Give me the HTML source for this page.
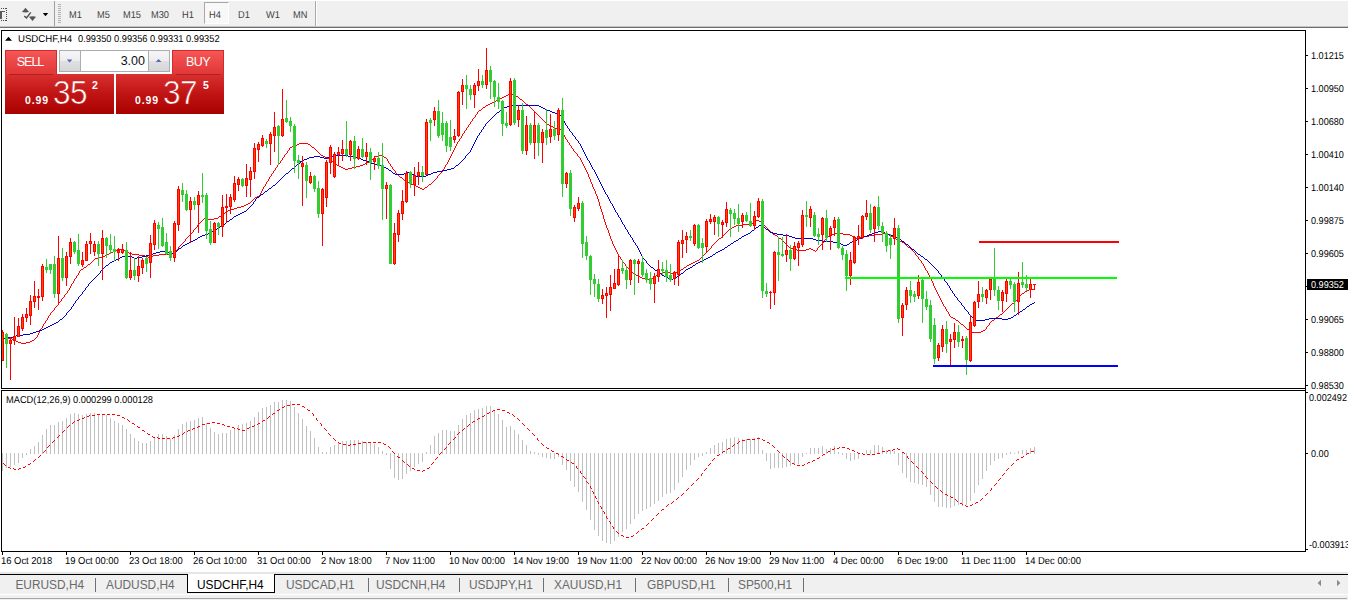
<!DOCTYPE html>
<html><head><meta charset="utf-8"><title>USDCHF,H4</title>
<style>
*{margin:0;padding:0;box-sizing:border-box}
html,body{width:1348px;height:600px;overflow:hidden;background:#fff;font-family:"Liberation Sans",sans-serif;}
#root{position:relative;width:1348px;height:600px;overflow:hidden;background:#fff}
.abs{position:absolute}
#toolbar{position:absolute;left:0;top:1px;width:1348px;height:25px;background:#F0F0F0}
#tbl1{position:absolute;left:0;top:26px;width:1348px;height:1px;background:#C6C6C6}
#tbl2{position:absolute;left:0;top:27px;width:1348px;height:1px;background:#6D6D6D}
.tf{position:absolute;margin-left:-0.2px;top:7.95px;font-size:10px;text-rendering:geometricPrecision;transform:scaleX(0.925);transform-origin:0 0;line-height:13px;color:#404040;white-space:nowrap}
.vsep{position:absolute;top:1px;width:1px;height:25px;background:#A0A0A0}
#h4btn{position:absolute;left:204px;top:1px;width:25px;height:22px;border:1px solid #A8A8A8;border-right-color:#fff;border-bottom-color:#fff;background:#F8F8F8}
#chart{position:absolute;left:0;top:0}
.bl{position:absolute;background:#000}
.tick{position:absolute;left:1306px;width:2px;height:1px;background:#000}
.pl{position:absolute;left:1311px;font-size:10px;text-rendering:geometricPrecision;transform:scaleX(0.91);transform-origin:0 0;line-height:12px;color:#000;white-space:nowrap}
.cur{position:absolute;left:1307px;top:279px;width:41px;height:11px;background:#000;color:#fff;font-size:10px;text-rendering:geometricPrecision;line-height:11px;padding-left:4px;padding-top:1px;white-space:nowrap}
.dtick{position:absolute;top:552px;width:1px;height:3px;background:#000}
.dl{position:absolute;top:556px;margin-left:-0.7px;font-size:10px;text-rendering:geometricPrecision;transform:scaleX(0.94);transform-origin:0 0;line-height:12px;color:#000;white-space:nowrap}
.title{position:absolute;left:18px;top:34px;font-size:10px;text-rendering:geometricPrecision;transform-origin:0 0;line-height:12px;color:#000;white-space:pre}
#macdt{position:absolute;left:5.5px;top:394.8px;font-size:10px;text-rendering:geometricPrecision;transform:scaleX(0.928);transform-origin:0 0;line-height:12px;color:#000;white-space:pre}
#tabs{position:absolute;left:0;top:575px;width:1348px;height:19px;background:#F0F0F0}
#tabline{position:absolute;left:0;top:574px;width:1348px;height:1px;background:#000}
#tabtop{position:absolute;left:0;top:572px;width:1348px;height:2px;background:#E6E6E6}
.tab{position:absolute;top:3px;font-size:11.9px;line-height:14px;color:#6a6a6a;white-space:nowrap}
.tab.act{color:#000}
.tsep{position:absolute;top:3px;width:1px;height:14px;background:#707070}
#acttab{position:absolute;left:187px;top:574px;width:88px;height:19px;background:#fff;border:1px solid #000;border-top:none}
#bot{position:absolute;left:0;top:594px;width:1348px;height:6px;background:#F0F0F0}
#botl{position:absolute;left:0;top:598px;width:1347px;height:1px;background:#A6A6A6}
#botw{position:absolute;left:0;top:594px;width:1348px;height:1px;background:#FFFFFF}
/* trade panel */
.rb{position:absolute;color:#fff}
</style></head><body><div id="root">
<div id="toolbar">
 <div class="vsep" style="left:54px;top:0"></div>
 <div class="vsep" style="left:315px;top:0;background:#A8A8A8"></div><div class="vsep" style="left:316px;top:0;background:#fff"></div>
 <div id="h4btn"></div>
 <div class="tf" style="left:69px">M1</div><div class="tf" style="left:97px">M5</div><div class="tf" style="left:123px">M15</div><div class="tf" style="left:151px">M30</div><div class="tf" style="left:182px">H1</div><div class="tf" style="left:209px">H4</div><div class="tf" style="left:238px">D1</div><div class="tf" style="left:265.7px">W1</div><div class="tf" style="left:293px">MN</div>
 <svg class="abs" style="left:0;top:-1px" width="66" height="27" shape-rendering="crispEdges">
  <g fill="#B4B4B4"><rect x="58" y="4" width="3" height="1"/><rect x="58" y="6" width="3" height="1"/><rect x="58" y="8" width="3" height="1"/><rect x="58" y="10" width="3" height="1"/><rect x="58" y="12" width="3" height="1"/><rect x="58" y="14" width="3" height="1"/><rect x="58" y="16" width="3" height="1"/><rect x="58" y="18" width="3" height="1"/><rect x="58" y="20" width="3" height="1"/><rect x="58" y="22" width="3" height="1"/></g>
  <rect x="0" y="11" width="5" height="1" fill="#5a5a5a"/><rect x="0" y="12" width="2" height="7" fill="#5a5a5a"/>
  <g fill="#4a4a4a"><rect x="1" y="8" width="1" height="1"/><rect x="1" y="20" width="1" height="1"/><rect x="3" y="8" width="1" height="1"/><rect x="3" y="20" width="1" height="1"/><rect x="5" y="8" width="1" height="1"/><rect x="5" y="20" width="1" height="1"/><rect x="6" y="8" width="1" height="1"/><rect x="6" y="10" width="1" height="1"/><rect x="6" y="12" width="1" height="1"/><rect x="6" y="14" width="1" height="1"/><rect x="6" y="16" width="1" height="1"/><rect x="6" y="18" width="1" height="1"/><rect x="6" y="20" width="1" height="1"/></g>
  <g shape-rendering="auto"><path d="M22 12 L25.5 7.8 L29 12 L25.5 12.6 Z" fill="#555"/><path d="M29 16.8 L32.5 16.2 L36 16.8 L32.5 21 Z" fill="#555"/>
  <path d="M24.2 16 L26.5 17.9 L30.8 12.4" stroke="#505050" stroke-width="1.4" fill="none"/>
  <path d="M42.8 13 L48.2 13 L45.5 16.3 Z" fill="#000"/></g>
 </svg>
</div>
<div id="tbl1"></div><div id="tbl2"></div>

<!-- chart borders -->
<div class="bl" style="left:1px;top:30px;width:1305px;height:1px"></div>
<div class="bl" style="left:1px;top:30px;width:1px;height:522px"></div>
<div class="bl" style="left:1305px;top:30px;width:1px;height:522px"></div>
<div class="bl" style="left:1px;top:388px;width:1305px;height:1px"></div>
<div class="bl" style="left:1px;top:390px;width:1305px;height:1px"></div>
<div class="bl" style="left:1px;top:551px;width:1305px;height:1px"></div>
<div class="abs" style="left:0px;top:389px;width:1305px;height:1px;background:#fff"></div>

<svg id="chart" width="1305" height="552" viewBox="0 0 1305 552" shape-rendering="crispEdges">
<defs><clipPath id="cp"><rect x="2" y="31" width="1303" height="520"/></clipPath></defs>
<g clip-path="url(#cp)">
<path d="M510 93h2v1h-2zM508 94h2v1h-2zM512 94h2v1h-2zM506 95h2v1h-2zM514 95h2v1h-2zM504 96h2v1h-2zM516 96h2v1h-2zM502 97h2v1h-2zM518 97h1v1h-1zM500 98h2v1h-2zM519 98h1v1h-1zM498 99h2v1h-2zM520 99h2v1h-2zM496 100h2v1h-2zM522 100h1v1h-1zM494 101h2v1h-2zM523 101h1v1h-1zM492 102h2v1h-2zM524 102h1v1h-1zM490 103h2v1h-2zM525 103h1v1h-1zM488 104h2v1h-2zM526 104h2v1h-2zM486 105h2v1h-2zM528 105h1v1h-1zM485 106h1v1h-1zM529 106h1v1h-1zM483 107h2v1h-2zM530 107h1v1h-1zM482 108h1v1h-1zM531 108h1v1h-1zM481 109h1v1h-1zM532 109h1v1h-1zM479 110h2v1h-2zM533 110h1v1h-1zM478 111h1v1h-1zM534 111h1v1h-1zM477 112h1v1h-1zM535 112h1v1h-1zM477 113h1v1h-1zM536 113h1v1h-1zM476 114h1v1h-1zM537 114h1v1h-1zM475 115h1v1h-1zM538 115h1v1h-1zM475 116h1v1h-1zM539 116h1v1h-1zM474 117h1v1h-1zM540 117h1v1h-1zM473 118h1v1h-1zM541 118h1v1h-1zM472 119h1v1h-1zM542 119h1v1h-1zM472 120h1v1h-1zM543 120h1v1h-1zM471 121h1v1h-1zM544 121h1v1h-1zM470 122h1v1h-1zM545 122h1v1h-1zM470 123h1v1h-1zM546 123h1v1h-1zM469 124h1v1h-1zM547 124h2v1h-2zM468 125h1v1h-1zM549 125h2v1h-2zM468 126h1v1h-1zM551 126h2v1h-2zM467 127h1v1h-1zM553 127h2v1h-2zM466 128h1v1h-1zM555 128h4v1h-4zM466 129h1v1h-1zM559 129h3v1h-3zM465 130h1v1h-1zM561 130h1v1h-1zM464 131h1v1h-1zM562 131h1v1h-1zM464 132h1v1h-1zM562 132h1v1h-1zM463 133h1v1h-1zM563 133h1v1h-1zM462 134h1v1h-1zM563 134h1v1h-1zM462 135h1v1h-1zM564 135h1v1h-1zM461 136h1v1h-1zM564 136h1v1h-1zM461 137h1v1h-1zM565 137h1v1h-1zM460 138h1v1h-1zM565 138h1v1h-1zM459 139h1v1h-1zM566 139h1v1h-1zM459 140h1v1h-1zM567 140h1v1h-1zM458 141h1v1h-1zM567 141h1v1h-1zM457 142h1v1h-1zM568 142h1v1h-1zM299 143h9v1h-9zM457 143h1v1h-1zM569 143h1v1h-1zM297 144h2v1h-2zM308 144h2v1h-2zM456 144h1v1h-1zM569 144h1v1h-1zM294 145h3v1h-3zM310 145h1v1h-1zM456 145h1v1h-1zM570 145h1v1h-1zM292 146h2v1h-2zM311 146h1v1h-1zM455 146h1v1h-1zM571 146h1v1h-1zM290 147h2v1h-2zM312 147h2v1h-2zM455 147h1v1h-1zM571 147h1v1h-1zM289 148h1v1h-1zM314 148h1v1h-1zM454 148h1v1h-1zM572 148h1v1h-1zM289 149h1v1h-1zM315 149h1v1h-1zM454 149h1v1h-1zM573 149h1v1h-1zM288 150h1v1h-1zM316 150h1v1h-1zM453 150h1v1h-1zM573 150h1v1h-1zM287 151h1v1h-1zM317 151h1v1h-1zM453 151h1v1h-1zM574 151h1v1h-1zM287 152h1v1h-1zM318 152h1v1h-1zM452 152h1v1h-1zM575 152h1v1h-1zM286 153h1v1h-1zM319 153h1v1h-1zM452 153h1v1h-1zM576 153h1v1h-1zM285 154h1v1h-1zM320 154h1v1h-1zM451 154h1v1h-1zM577 154h1v1h-1zM284 155h1v1h-1zM321 155h2v1h-2zM378 155h4v1h-4zM451 155h1v1h-1zM577 155h1v1h-1zM284 156h1v1h-1zM323 156h2v1h-2zM375 156h3v1h-3zM382 156h2v1h-2zM450 156h1v1h-1zM578 156h1v1h-1zM283 157h1v1h-1zM325 157h2v1h-2zM374 157h1v1h-1zM384 157h2v1h-2zM450 157h1v1h-1zM579 157h1v1h-1zM282 158h1v1h-1zM327 158h2v1h-2zM373 158h1v1h-1zM386 158h1v1h-1zM449 158h1v1h-1zM580 158h1v1h-1zM282 159h1v1h-1zM329 159h1v1h-1zM371 159h2v1h-2zM387 159h1v1h-1zM449 159h1v1h-1zM580 159h1v1h-1zM281 160h1v1h-1zM330 160h2v1h-2zM370 160h1v1h-1zM387 160h1v1h-1zM448 160h1v1h-1zM581 160h1v1h-1zM280 161h1v1h-1zM332 161h1v1h-1zM369 161h1v1h-1zM388 161h1v1h-1zM448 161h1v1h-1zM581 161h1v1h-1zM280 162h1v1h-1zM333 162h2v1h-2zM367 162h2v1h-2zM388 162h1v1h-1zM447 162h1v1h-1zM582 162h1v1h-1zM279 163h1v1h-1zM335 163h1v1h-1zM365 163h2v1h-2zM389 163h1v1h-1zM447 163h1v1h-1zM582 163h1v1h-1zM278 164h1v1h-1zM336 164h1v1h-1zM363 164h2v1h-2zM390 164h1v1h-1zM446 164h1v1h-1zM583 164h1v1h-1zM277 165h1v1h-1zM337 165h2v1h-2zM360 165h3v1h-3zM390 165h1v1h-1zM445 165h1v1h-1zM583 165h1v1h-1zM277 166h1v1h-1zM339 166h2v1h-2zM356 166h4v1h-4zM391 166h1v1h-1zM445 166h1v1h-1zM584 166h1v1h-1zM276 167h1v1h-1zM341 167h2v1h-2zM352 167h4v1h-4zM392 167h1v1h-1zM444 167h1v1h-1zM584 167h1v1h-1zM275 168h1v1h-1zM343 168h2v1h-2zM348 168h4v1h-4zM392 168h1v1h-1zM444 168h1v1h-1zM585 168h1v1h-1zM275 169h1v1h-1zM345 169h3v1h-3zM393 169h1v1h-1zM443 169h1v1h-1zM585 169h1v1h-1zM274 170h1v1h-1zM394 170h1v1h-1zM443 170h1v1h-1zM586 170h1v1h-1zM273 171h1v1h-1zM395 171h1v1h-1zM442 171h1v1h-1zM586 171h1v1h-1zM273 172h1v1h-1zM395 172h1v1h-1zM441 172h1v1h-1zM587 172h1v1h-1zM272 173h1v1h-1zM396 173h1v1h-1zM440 173h1v1h-1zM587 173h1v1h-1zM271 174h1v1h-1zM397 174h1v1h-1zM439 174h1v1h-1zM588 174h1v1h-1zM271 175h1v1h-1zM398 175h1v1h-1zM438 175h1v1h-1zM588 175h1v1h-1zM270 176h1v1h-1zM399 176h1v1h-1zM437 176h1v1h-1zM588 176h1v1h-1zM269 177h1v1h-1zM400 177h2v1h-2zM437 177h1v1h-1zM589 177h1v1h-1zM269 178h1v1h-1zM402 178h1v1h-1zM436 178h1v1h-1zM589 178h1v1h-1zM268 179h1v1h-1zM403 179h1v1h-1zM435 179h1v1h-1zM590 179h1v1h-1zM268 180h1v1h-1zM404 180h1v1h-1zM434 180h1v1h-1zM590 180h1v1h-1zM267 181h1v1h-1zM405 181h2v1h-2zM433 181h1v1h-1zM590 181h1v1h-1zM266 182h1v1h-1zM407 182h2v1h-2zM432 182h1v1h-1zM591 182h1v1h-1zM266 183h1v1h-1zM409 183h2v1h-2zM431 183h1v1h-1zM591 183h1v1h-1zM265 184h1v1h-1zM411 184h3v1h-3zM429 184h2v1h-2zM592 184h1v1h-1zM265 185h1v1h-1zM414 185h2v1h-2zM428 185h1v1h-1zM592 185h1v1h-1zM264 186h1v1h-1zM416 186h2v1h-2zM427 186h1v1h-1zM592 186h1v1h-1zM263 187h1v1h-1zM418 187h2v1h-2zM425 187h2v1h-2zM593 187h1v1h-1zM263 188h1v1h-1zM420 188h2v1h-2zM424 188h1v1h-1zM593 188h1v1h-1zM262 189h1v1h-1zM422 189h2v1h-2zM594 189h1v1h-1zM262 190h1v1h-1zM594 190h1v1h-1zM261 191h1v1h-1zM595 191h1v1h-1zM261 192h1v1h-1zM595 192h1v1h-1zM260 193h1v1h-1zM595 193h1v1h-1zM260 194h1v1h-1zM596 194h1v1h-1zM259 195h1v1h-1zM596 195h1v1h-1zM257 196h2v1h-2zM597 196h1v1h-1zM255 197h2v1h-2zM597 197h1v1h-1zM254 198h1v1h-1zM597 198h1v1h-1zM253 199h1v1h-1zM598 199h1v1h-1zM252 200h1v1h-1zM598 200h1v1h-1zM251 201h1v1h-1zM598 201h1v1h-1zM250 202h1v1h-1zM599 202h1v1h-1zM248 203h2v1h-2zM599 203h1v1h-1zM246 204h2v1h-2zM599 204h1v1h-1zM244 205h2v1h-2zM599 205h1v1h-1zM241 206h3v1h-3zM600 206h1v1h-1zM237 207h4v1h-4zM600 207h1v1h-1zM234 208h3v1h-3zM600 208h1v1h-1zM230 209h4v1h-4zM601 209h1v1h-1zM228 210h2v1h-2zM601 210h1v1h-1zM226 211h2v1h-2zM601 211h1v1h-1zM225 212h1v1h-1zM602 212h1v1h-1zM223 213h2v1h-2zM602 213h1v1h-1zM222 214h1v1h-1zM602 214h1v1h-1zM221 215h1v1h-1zM603 215h1v1h-1zM219 216h2v1h-2zM603 216h1v1h-1zM218 217h1v1h-1zM603 217h1v1h-1zM204 218h4v1h-4zM214 218h4v1h-4zM603 218h1v1h-1zM203 219h1v1h-1zM208 219h6v1h-6zM604 219h1v1h-1zM202 220h1v1h-1zM604 220h1v1h-1zM756 220h3v1h-3zM201 221h1v1h-1zM604 221h1v1h-1zM755 221h1v1h-1zM759 221h3v1h-3zM200 222h1v1h-1zM605 222h1v1h-1zM753 222h2v1h-2zM762 222h1v1h-1zM199 223h1v1h-1zM605 223h1v1h-1zM752 223h1v1h-1zM763 223h1v1h-1zM198 224h1v1h-1zM605 224h1v1h-1zM742 224h10v1h-10zM763 224h1v1h-1zM197 225h1v1h-1zM606 225h1v1h-1zM736 225h6v1h-6zM764 225h1v1h-1zM197 226h1v1h-1zM606 226h1v1h-1zM734 226h2v1h-2zM765 226h1v1h-1zM196 227h1v1h-1zM606 227h1v1h-1zM732 227h2v1h-2zM766 227h1v1h-1zM195 228h1v1h-1zM607 228h1v1h-1zM730 228h2v1h-2zM767 228h1v1h-1zM194 229h1v1h-1zM607 229h1v1h-1zM729 229h1v1h-1zM768 229h1v1h-1zM193 230h1v1h-1zM608 230h1v1h-1zM728 230h1v1h-1zM769 230h1v1h-1zM193 231h1v1h-1zM608 231h1v1h-1zM727 231h1v1h-1zM770 231h1v1h-1zM192 232h1v1h-1zM608 232h1v1h-1zM726 232h1v1h-1zM771 232h1v1h-1zM191 233h1v1h-1zM609 233h1v1h-1zM725 233h1v1h-1zM772 233h1v1h-1zM835 233h8v1h-8zM882 233h5v1h-5zM190 234h1v1h-1zM609 234h1v1h-1zM724 234h1v1h-1zM773 234h2v1h-2zM831 234h4v1h-4zM843 234h7v1h-7zM874 234h8v1h-8zM887 234h2v1h-2zM189 235h1v1h-1zM609 235h1v1h-1zM723 235h1v1h-1zM775 235h2v1h-2zM830 235h1v1h-1zM850 235h2v1h-2zM869 235h5v1h-5zM889 235h2v1h-2zM188 236h1v1h-1zM610 236h1v1h-1zM722 236h1v1h-1zM777 236h1v1h-1zM828 236h2v1h-2zM852 236h2v1h-2zM864 236h5v1h-5zM891 236h2v1h-2zM187 237h1v1h-1zM610 237h1v1h-1zM721 237h1v1h-1zM778 237h1v1h-1zM827 237h1v1h-1zM854 237h2v1h-2zM860 237h4v1h-4zM893 237h2v1h-2zM186 238h1v1h-1zM610 238h1v1h-1zM719 238h2v1h-2zM779 238h2v1h-2zM826 238h1v1h-1zM856 238h4v1h-4zM895 238h1v1h-1zM185 239h1v1h-1zM611 239h1v1h-1zM718 239h1v1h-1zM781 239h1v1h-1zM825 239h1v1h-1zM896 239h2v1h-2zM185 240h1v1h-1zM611 240h1v1h-1zM717 240h1v1h-1zM782 240h1v1h-1zM824 240h1v1h-1zM898 240h2v1h-2zM184 241h1v1h-1zM612 241h1v1h-1zM716 241h1v1h-1zM783 241h1v1h-1zM823 241h1v1h-1zM900 241h2v1h-2zM183 242h1v1h-1zM612 242h1v1h-1zM715 242h1v1h-1zM784 242h1v1h-1zM823 242h1v1h-1zM902 242h2v1h-2zM182 243h1v1h-1zM612 243h1v1h-1zM714 243h1v1h-1zM785 243h1v1h-1zM822 243h1v1h-1zM904 243h1v1h-1zM181 244h1v1h-1zM613 244h1v1h-1zM713 244h1v1h-1zM786 244h1v1h-1zM821 244h1v1h-1zM905 244h1v1h-1zM180 245h1v1h-1zM613 245h1v1h-1zM712 245h1v1h-1zM787 245h1v1h-1zM820 245h1v1h-1zM906 245h1v1h-1zM179 246h1v1h-1zM614 246h1v1h-1zM711 246h1v1h-1zM788 246h1v1h-1zM819 246h1v1h-1zM907 246h1v1h-1zM178 247h1v1h-1zM614 247h1v1h-1zM711 247h1v1h-1zM789 247h2v1h-2zM818 247h1v1h-1zM908 247h2v1h-2zM178 248h1v1h-1zM615 248h1v1h-1zM710 248h1v1h-1zM791 248h2v1h-2zM809 248h2v1h-2zM817 248h1v1h-1zM910 248h1v1h-1zM117 249h4v1h-4zM177 249h1v1h-1zM615 249h1v1h-1zM709 249h1v1h-1zM793 249h4v1h-4zM806 249h3v1h-3zM811 249h2v1h-2zM817 249h1v1h-1zM911 249h1v1h-1zM115 250h2v1h-2zM121 250h4v1h-4zM176 250h1v1h-1zM616 250h1v1h-1zM708 250h1v1h-1zM797 250h9v1h-9zM813 250h2v1h-2zM816 250h1v1h-1zM912 250h1v1h-1zM113 251h2v1h-2zM125 251h2v1h-2zM175 251h1v1h-1zM616 251h1v1h-1zM707 251h1v1h-1zM815 251h1v1h-1zM913 251h1v1h-1zM111 252h2v1h-2zM127 252h2v1h-2zM173 252h2v1h-2zM617 252h1v1h-1zM706 252h1v1h-1zM914 252h1v1h-1zM109 253h2v1h-2zM129 253h3v1h-3zM171 253h2v1h-2zM617 253h1v1h-1zM705 253h1v1h-1zM915 253h1v1h-1zM107 254h2v1h-2zM132 254h7v1h-7zM159 254h12v1h-12zM618 254h1v1h-1zM704 254h1v1h-1zM915 254h1v1h-1zM105 255h2v1h-2zM139 255h6v1h-6zM153 255h6v1h-6zM618 255h1v1h-1zM703 255h1v1h-1zM916 255h1v1h-1zM102 256h3v1h-3zM145 256h3v1h-3zM151 256h2v1h-2zM619 256h1v1h-1zM702 256h1v1h-1zM917 256h1v1h-1zM98 257h4v1h-4zM148 257h3v1h-3zM620 257h1v1h-1zM701 257h1v1h-1zM918 257h1v1h-1zM95 258h3v1h-3zM620 258h1v1h-1zM700 258h1v1h-1zM918 258h1v1h-1zM94 259h1v1h-1zM621 259h1v1h-1zM699 259h1v1h-1zM919 259h1v1h-1zM93 260h1v1h-1zM622 260h1v1h-1zM697 260h2v1h-2zM920 260h1v1h-1zM92 261h1v1h-1zM622 261h1v1h-1zM695 261h2v1h-2zM921 261h1v1h-1zM91 262h1v1h-1zM623 262h1v1h-1zM693 262h2v1h-2zM921 262h1v1h-1zM90 263h1v1h-1zM624 263h1v1h-1zM691 263h2v1h-2zM922 263h1v1h-1zM88 264h2v1h-2zM625 264h1v1h-1zM689 264h2v1h-2zM923 264h1v1h-1zM87 265h1v1h-1zM625 265h1v1h-1zM687 265h2v1h-2zM923 265h1v1h-1zM86 266h1v1h-1zM626 266h1v1h-1zM686 266h1v1h-1zM924 266h1v1h-1zM84 267h2v1h-2zM627 267h1v1h-1zM684 267h2v1h-2zM924 267h1v1h-1zM83 268h1v1h-1zM628 268h1v1h-1zM683 268h1v1h-1zM925 268h1v1h-1zM81 269h2v1h-2zM629 269h1v1h-1zM681 269h2v1h-2zM925 269h1v1h-1zM80 270h1v1h-1zM630 270h1v1h-1zM680 270h1v1h-1zM926 270h1v1h-1zM79 271h1v1h-1zM631 271h1v1h-1zM678 271h2v1h-2zM927 271h1v1h-1zM79 272h1v1h-1zM632 272h1v1h-1zM663 272h8v1h-8zM676 272h2v1h-2zM927 272h1v1h-1zM78 273h1v1h-1zM633 273h1v1h-1zM658 273h5v1h-5zM671 273h5v1h-5zM928 273h1v1h-1zM78 274h1v1h-1zM634 274h2v1h-2zM657 274h1v1h-1zM928 274h1v1h-1zM77 275h1v1h-1zM636 275h2v1h-2zM656 275h1v1h-1zM929 275h1v1h-1zM76 276h1v1h-1zM638 276h2v1h-2zM655 276h1v1h-1zM929 276h1v1h-1zM76 277h1v1h-1zM640 277h2v1h-2zM653 277h2v1h-2zM930 277h1v1h-1zM75 278h1v1h-1zM642 278h3v1h-3zM652 278h1v1h-1zM930 278h1v1h-1zM74 279h1v1h-1zM645 279h4v1h-4zM651 279h1v1h-1zM931 279h1v1h-1zM74 280h1v1h-1zM649 280h2v1h-2zM931 280h1v1h-1zM73 281h1v1h-1zM932 281h1v1h-1zM73 282h1v1h-1zM932 282h1v1h-1zM72 283h1v1h-1zM933 283h1v1h-1zM71 284h1v1h-1zM933 284h1v1h-1zM71 285h1v1h-1zM933 285h1v1h-1zM70 286h1v1h-1zM934 286h1v1h-1zM70 287h1v1h-1zM934 287h1v1h-1zM69 288h1v1h-1zM935 288h1v1h-1zM69 289h1v1h-1zM935 289h1v1h-1zM1029 289h6v1h-6zM68 290h1v1h-1zM936 290h1v1h-1zM1027 290h2v1h-2zM67 291h1v1h-1zM936 291h1v1h-1zM1025 291h2v1h-2zM67 292h1v1h-1zM937 292h1v1h-1zM1024 292h1v1h-1zM66 293h1v1h-1zM937 293h1v1h-1zM1022 293h2v1h-2zM65 294h1v1h-1zM938 294h1v1h-1zM1021 294h1v1h-1zM64 295h1v1h-1zM938 295h1v1h-1zM1020 295h1v1h-1zM64 296h1v1h-1zM939 296h1v1h-1zM1019 296h1v1h-1zM63 297h1v1h-1zM939 297h1v1h-1zM1018 297h1v1h-1zM62 298h1v1h-1zM940 298h1v1h-1zM1017 298h1v1h-1zM61 299h1v1h-1zM940 299h1v1h-1zM1017 299h1v1h-1zM61 300h1v1h-1zM941 300h1v1h-1zM1016 300h1v1h-1zM60 301h1v1h-1zM941 301h1v1h-1zM1015 301h1v1h-1zM59 302h1v1h-1zM942 302h1v1h-1zM1014 302h1v1h-1zM58 303h1v1h-1zM942 303h1v1h-1zM1012 303h2v1h-2zM58 304h1v1h-1zM943 304h1v1h-1zM1011 304h1v1h-1zM57 305h1v1h-1zM943 305h1v1h-1zM1010 305h1v1h-1zM56 306h1v1h-1zM944 306h1v1h-1zM1009 306h1v1h-1zM55 307h1v1h-1zM945 307h1v1h-1zM1008 307h1v1h-1zM54 308h1v1h-1zM945 308h1v1h-1zM1007 308h1v1h-1zM54 309h1v1h-1zM946 309h1v1h-1zM1006 309h1v1h-1zM53 310h1v1h-1zM946 310h1v1h-1zM1005 310h1v1h-1zM52 311h1v1h-1zM947 311h1v1h-1zM1004 311h1v1h-1zM51 312h1v1h-1zM948 312h1v1h-1zM1003 312h1v1h-1zM50 313h1v1h-1zM948 313h1v1h-1zM1002 313h1v1h-1zM50 314h1v1h-1zM949 314h1v1h-1zM1000 314h2v1h-2zM49 315h1v1h-1zM949 315h1v1h-1zM999 315h1v1h-1zM48 316h1v1h-1zM950 316h1v1h-1zM998 316h1v1h-1zM48 317h1v1h-1zM951 317h2v1h-2zM996 317h2v1h-2zM47 318h1v1h-1zM953 318h2v1h-2zM995 318h1v1h-1zM47 319h1v1h-1zM955 319h1v1h-1zM994 319h1v1h-1zM46 320h1v1h-1zM956 320h2v1h-2zM992 320h2v1h-2zM45 321h1v1h-1zM958 321h1v1h-1zM991 321h1v1h-1zM45 322h1v1h-1zM959 322h1v1h-1zM990 322h1v1h-1zM44 323h1v1h-1zM960 323h1v1h-1zM989 323h1v1h-1zM43 324h1v1h-1zM961 324h2v1h-2zM989 324h1v1h-1zM43 325h1v1h-1zM963 325h1v1h-1zM988 325h1v1h-1zM42 326h1v1h-1zM964 326h1v1h-1zM987 326h1v1h-1zM42 327h1v1h-1zM965 327h1v1h-1zM986 327h1v1h-1zM41 328h1v1h-1zM966 328h1v1h-1zM986 328h1v1h-1zM40 329h1v1h-1zM967 329h2v1h-2zM985 329h1v1h-1zM40 330h1v1h-1zM969 330h1v1h-1zM983 330h2v1h-2zM39 331h1v1h-1zM970 331h1v1h-1zM981 331h2v1h-2zM39 332h1v1h-1zM971 332h10v1h-10zM38 333h1v1h-1zM38 334h1v1h-1zM37 335h1v1h-1zM37 336h1v1h-1zM36 337h1v1h-1zM0 338h12v1h-12zM35 338h1v1h-1zM12 339h2v1h-2zM34 339h1v1h-1zM14 340h2v1h-2zM32 340h2v1h-2zM16 341h2v1h-2zM30 341h2v1h-2zM18 342h3v1h-3zM26 342h4v1h-4zM21 343h5v1h-5z" fill="#FF0000"/>
<path d="M509 105h30v1h-30zM507 106h2v1h-2zM539 106h2v1h-2zM504 107h3v1h-3zM541 107h2v1h-2zM502 108h2v1h-2zM543 108h2v1h-2zM501 109h1v1h-1zM545 109h2v1h-2zM500 110h1v1h-1zM547 110h3v1h-3zM499 111h1v1h-1zM550 111h2v1h-2zM497 112h2v1h-2zM552 112h3v1h-3zM496 113h1v1h-1zM555 113h2v1h-2zM495 114h1v1h-1zM557 114h2v1h-2zM494 115h1v1h-1zM559 115h2v1h-2zM493 116h1v1h-1zM561 116h1v1h-1zM492 117h1v1h-1zM562 117h1v1h-1zM491 118h1v1h-1zM562 118h1v1h-1zM490 119h1v1h-1zM563 119h1v1h-1zM489 120h1v1h-1zM563 120h1v1h-1zM488 121h1v1h-1zM564 121h1v1h-1zM487 122h1v1h-1zM564 122h1v1h-1zM486 123h1v1h-1zM565 123h1v1h-1zM485 124h1v1h-1zM565 124h1v1h-1zM485 125h1v1h-1zM566 125h1v1h-1zM484 126h1v1h-1zM567 126h1v1h-1zM483 127h1v1h-1zM567 127h1v1h-1zM483 128h1v1h-1zM568 128h1v1h-1zM482 129h1v1h-1zM569 129h1v1h-1zM481 130h1v1h-1zM569 130h1v1h-1zM481 131h1v1h-1zM570 131h1v1h-1zM480 132h1v1h-1zM571 132h1v1h-1zM479 133h1v1h-1zM572 133h1v1h-1zM479 134h1v1h-1zM572 134h1v1h-1zM478 135h1v1h-1zM573 135h1v1h-1zM477 136h1v1h-1zM574 136h1v1h-1zM477 137h1v1h-1zM575 137h1v1h-1zM476 138h1v1h-1zM575 138h1v1h-1zM476 139h1v1h-1zM576 139h1v1h-1zM475 140h1v1h-1zM577 140h1v1h-1zM475 141h1v1h-1zM578 141h1v1h-1zM474 142h1v1h-1zM578 142h1v1h-1zM474 143h1v1h-1zM579 143h1v1h-1zM473 144h1v1h-1zM580 144h1v1h-1zM473 145h1v1h-1zM580 145h1v1h-1zM472 146h1v1h-1zM581 146h1v1h-1zM472 147h1v1h-1zM581 147h1v1h-1zM471 148h1v1h-1zM582 148h1v1h-1zM471 149h1v1h-1zM582 149h1v1h-1zM470 150h1v1h-1zM583 150h1v1h-1zM470 151h1v1h-1zM583 151h1v1h-1zM469 152h1v1h-1zM584 152h1v1h-1zM468 153h1v1h-1zM584 153h1v1h-1zM467 154h1v1h-1zM585 154h1v1h-1zM333 155h15v1h-15zM466 155h1v1h-1zM585 155h1v1h-1zM314 156h6v1h-6zM330 156h3v1h-3zM348 156h6v1h-6zM465 156h1v1h-1zM586 156h1v1h-1zM309 157h5v1h-5zM320 157h4v1h-4zM327 157h3v1h-3zM354 157h4v1h-4zM465 157h1v1h-1zM586 157h1v1h-1zM307 158h2v1h-2zM324 158h3v1h-3zM358 158h3v1h-3zM464 158h1v1h-1zM587 158h1v1h-1zM304 159h3v1h-3zM361 159h2v1h-2zM463 159h1v1h-1zM587 159h1v1h-1zM302 160h2v1h-2zM363 160h3v1h-3zM462 160h1v1h-1zM588 160h1v1h-1zM300 161h2v1h-2zM366 161h3v1h-3zM461 161h1v1h-1zM589 161h1v1h-1zM300 162h1v1h-1zM369 162h2v1h-2zM460 162h1v1h-1zM589 162h1v1h-1zM299 163h1v1h-1zM371 163h4v1h-4zM459 163h1v1h-1zM590 163h1v1h-1zM297 164h2v1h-2zM375 164h4v1h-4zM458 164h1v1h-1zM590 164h1v1h-1zM296 165h1v1h-1zM379 165h3v1h-3zM456 165h2v1h-2zM591 165h1v1h-1zM295 166h1v1h-1zM382 166h2v1h-2zM455 166h1v1h-1zM591 166h1v1h-1zM294 167h1v1h-1zM384 167h2v1h-2zM454 167h1v1h-1zM592 167h1v1h-1zM292 168h2v1h-2zM386 168h2v1h-2zM451 168h3v1h-3zM592 168h1v1h-1zM291 169h1v1h-1zM388 169h1v1h-1zM447 169h4v1h-4zM593 169h1v1h-1zM290 170h1v1h-1zM389 170h2v1h-2zM442 170h5v1h-5zM594 170h1v1h-1zM289 171h1v1h-1zM391 171h1v1h-1zM437 171h5v1h-5zM594 171h1v1h-1zM288 172h1v1h-1zM392 172h1v1h-1zM407 172h3v1h-3zM433 172h4v1h-4zM595 172h1v1h-1zM286 173h2v1h-2zM393 173h2v1h-2zM404 173h3v1h-3zM410 173h2v1h-2zM431 173h2v1h-2zM595 173h1v1h-1zM285 174h1v1h-1zM395 174h9v1h-9zM412 174h2v1h-2zM428 174h3v1h-3zM596 174h1v1h-1zM284 175h1v1h-1zM414 175h2v1h-2zM426 175h2v1h-2zM596 175h1v1h-1zM283 176h1v1h-1zM416 176h10v1h-10zM597 176h1v1h-1zM282 177h1v1h-1zM597 177h1v1h-1zM281 178h1v1h-1zM598 178h1v1h-1zM280 179h1v1h-1zM598 179h1v1h-1zM279 180h1v1h-1zM599 180h1v1h-1zM278 181h1v1h-1zM599 181h1v1h-1zM277 182h1v1h-1zM600 182h1v1h-1zM276 183h1v1h-1zM600 183h1v1h-1zM275 184h1v1h-1zM601 184h1v1h-1zM273 185h2v1h-2zM601 185h1v1h-1zM272 186h1v1h-1zM602 186h1v1h-1zM271 187h1v1h-1zM602 187h1v1h-1zM269 188h2v1h-2zM603 188h1v1h-1zM268 189h1v1h-1zM603 189h1v1h-1zM267 190h1v1h-1zM604 190h1v1h-1zM265 191h2v1h-2zM604 191h1v1h-1zM264 192h1v1h-1zM605 192h1v1h-1zM263 193h1v1h-1zM605 193h1v1h-1zM261 194h2v1h-2zM606 194h1v1h-1zM260 195h1v1h-1zM607 195h1v1h-1zM259 196h1v1h-1zM607 196h1v1h-1zM257 197h2v1h-2zM608 197h1v1h-1zM256 198h1v1h-1zM608 198h1v1h-1zM255 199h1v1h-1zM609 199h1v1h-1zM255 200h1v1h-1zM609 200h1v1h-1zM254 201h1v1h-1zM610 201h1v1h-1zM253 202h1v1h-1zM610 202h1v1h-1zM253 203h1v1h-1zM611 203h1v1h-1zM252 204h1v1h-1zM612 204h1v1h-1zM251 205h1v1h-1zM612 205h1v1h-1zM250 206h1v1h-1zM613 206h1v1h-1zM249 207h1v1h-1zM613 207h1v1h-1zM248 208h1v1h-1zM614 208h1v1h-1zM247 209h1v1h-1zM614 209h1v1h-1zM246 210h1v1h-1zM615 210h1v1h-1zM244 211h2v1h-2zM615 211h1v1h-1zM242 212h2v1h-2zM616 212h1v1h-1zM240 213h2v1h-2zM617 213h1v1h-1zM238 214h2v1h-2zM617 214h1v1h-1zM236 215h2v1h-2zM618 215h1v1h-1zM234 216h2v1h-2zM618 216h1v1h-1zM233 217h1v1h-1zM619 217h1v1h-1zM232 218h1v1h-1zM620 218h1v1h-1zM230 219h2v1h-2zM620 219h1v1h-1zM229 220h1v1h-1zM621 220h1v1h-1zM227 221h2v1h-2zM621 221h1v1h-1zM226 222h1v1h-1zM622 222h1v1h-1zM225 223h1v1h-1zM622 223h1v1h-1zM223 224h2v1h-2zM623 224h1v1h-1zM222 225h1v1h-1zM624 225h1v1h-1zM759 225h3v1h-3zM220 226h2v1h-2zM624 226h1v1h-1zM758 226h1v1h-1zM762 226h2v1h-2zM219 227h1v1h-1zM625 227h1v1h-1zM756 227h2v1h-2zM764 227h1v1h-1zM217 228h2v1h-2zM625 228h1v1h-1zM755 228h1v1h-1zM765 228h1v1h-1zM215 229h2v1h-2zM626 229h1v1h-1zM754 229h1v1h-1zM766 229h2v1h-2zM214 230h1v1h-1zM627 230h1v1h-1zM752 230h2v1h-2zM768 230h1v1h-1zM212 231h2v1h-2zM627 231h1v1h-1zM751 231h1v1h-1zM769 231h1v1h-1zM878 231h3v1h-3zM210 232h2v1h-2zM628 232h1v1h-1zM750 232h1v1h-1zM770 232h3v1h-3zM875 232h3v1h-3zM881 232h4v1h-4zM208 233h2v1h-2zM628 233h1v1h-1zM748 233h2v1h-2zM773 233h4v1h-4zM872 233h3v1h-3zM885 233h3v1h-3zM205 234h3v1h-3zM629 234h1v1h-1zM746 234h2v1h-2zM777 234h6v1h-6zM869 234h3v1h-3zM888 234h3v1h-3zM202 235h3v1h-3zM630 235h1v1h-1zM744 235h2v1h-2zM783 235h6v1h-6zM867 235h2v1h-2zM891 235h2v1h-2zM200 236h2v1h-2zM630 236h1v1h-1zM742 236h2v1h-2zM789 236h3v1h-3zM864 236h3v1h-3zM893 236h2v1h-2zM198 237h2v1h-2zM631 237h1v1h-1zM741 237h1v1h-1zM792 237h3v1h-3zM862 237h2v1h-2zM895 237h2v1h-2zM197 238h1v1h-1zM632 238h1v1h-1zM739 238h2v1h-2zM795 238h18v1h-18zM859 238h3v1h-3zM897 238h2v1h-2zM195 239h2v1h-2zM632 239h1v1h-1zM738 239h1v1h-1zM813 239h3v1h-3zM857 239h2v1h-2zM899 239h2v1h-2zM193 240h2v1h-2zM633 240h1v1h-1zM736 240h2v1h-2zM816 240h7v1h-7zM854 240h3v1h-3zM901 240h1v1h-1zM191 241h2v1h-2zM633 241h1v1h-1zM734 241h2v1h-2zM823 241h10v1h-10zM852 241h2v1h-2zM902 241h2v1h-2zM189 242h2v1h-2zM634 242h1v1h-1zM733 242h1v1h-1zM833 242h6v1h-6zM850 242h2v1h-2zM904 242h1v1h-1zM187 243h2v1h-2zM635 243h1v1h-1zM731 243h2v1h-2zM839 243h2v1h-2zM849 243h1v1h-1zM905 243h1v1h-1zM185 244h2v1h-2zM635 244h1v1h-1zM730 244h1v1h-1zM841 244h2v1h-2zM847 244h2v1h-2zM906 244h2v1h-2zM183 245h2v1h-2zM636 245h1v1h-1zM728 245h2v1h-2zM843 245h4v1h-4zM908 245h1v1h-1zM182 246h1v1h-1zM637 246h1v1h-1zM727 246h1v1h-1zM909 246h1v1h-1zM181 247h1v1h-1zM637 247h1v1h-1zM725 247h2v1h-2zM910 247h1v1h-1zM179 248h2v1h-2zM638 248h1v1h-1zM724 248h1v1h-1zM911 248h1v1h-1zM178 249h1v1h-1zM638 249h1v1h-1zM722 249h2v1h-2zM912 249h2v1h-2zM177 250h1v1h-1zM639 250h1v1h-1zM720 250h2v1h-2zM914 250h1v1h-1zM160 251h8v1h-8zM175 251h2v1h-2zM639 251h1v1h-1zM718 251h2v1h-2zM915 251h1v1h-1zM156 252h4v1h-4zM168 252h2v1h-2zM174 252h1v1h-1zM640 252h1v1h-1zM716 252h2v1h-2zM916 252h1v1h-1zM153 253h3v1h-3zM170 253h1v1h-1zM172 253h2v1h-2zM640 253h1v1h-1zM715 253h1v1h-1zM917 253h1v1h-1zM149 254h4v1h-4zM171 254h1v1h-1zM641 254h1v1h-1zM713 254h2v1h-2zM918 254h2v1h-2zM146 255h3v1h-3zM641 255h1v1h-1zM712 255h1v1h-1zM920 255h1v1h-1zM122 256h10v1h-10zM142 256h4v1h-4zM642 256h1v1h-1zM710 256h2v1h-2zM921 256h2v1h-2zM120 257h2v1h-2zM132 257h2v1h-2zM137 257h5v1h-5zM642 257h1v1h-1zM708 257h2v1h-2zM923 257h1v1h-1zM118 258h2v1h-2zM134 258h3v1h-3zM643 258h1v1h-1zM706 258h2v1h-2zM924 258h1v1h-1zM116 259h2v1h-2zM644 259h1v1h-1zM704 259h2v1h-2zM925 259h2v1h-2zM114 260h2v1h-2zM645 260h1v1h-1zM702 260h2v1h-2zM927 260h1v1h-1zM112 261h2v1h-2zM646 261h1v1h-1zM700 261h2v1h-2zM928 261h1v1h-1zM110 262h2v1h-2zM646 262h1v1h-1zM698 262h2v1h-2zM929 262h1v1h-1zM109 263h1v1h-1zM647 263h1v1h-1zM696 263h2v1h-2zM930 263h1v1h-1zM108 264h1v1h-1zM648 264h1v1h-1zM695 264h1v1h-1zM931 264h1v1h-1zM106 265h2v1h-2zM649 265h1v1h-1zM693 265h2v1h-2zM932 265h1v1h-1zM105 266h1v1h-1zM650 266h1v1h-1zM692 266h1v1h-1zM933 266h1v1h-1zM104 267h1v1h-1zM651 267h2v1h-2zM690 267h2v1h-2zM934 267h1v1h-1zM103 268h1v1h-1zM653 268h1v1h-1zM688 268h2v1h-2zM935 268h1v1h-1zM102 269h1v1h-1zM654 269h1v1h-1zM686 269h2v1h-2zM936 269h1v1h-1zM101 270h1v1h-1zM655 270h2v1h-2zM685 270h1v1h-1zM937 270h1v1h-1zM100 271h1v1h-1zM657 271h1v1h-1zM684 271h1v1h-1zM938 271h1v1h-1zM100 272h1v1h-1zM658 272h2v1h-2zM683 272h1v1h-1zM938 272h1v1h-1zM99 273h1v1h-1zM660 273h1v1h-1zM681 273h2v1h-2zM939 273h1v1h-1zM98 274h1v1h-1zM661 274h1v1h-1zM680 274h1v1h-1zM940 274h1v1h-1zM97 275h1v1h-1zM662 275h2v1h-2zM679 275h1v1h-1zM941 275h1v1h-1zM96 276h1v1h-1zM664 276h2v1h-2zM677 276h2v1h-2zM941 276h1v1h-1zM95 277h1v1h-1zM666 277h2v1h-2zM675 277h2v1h-2zM942 277h1v1h-1zM94 278h1v1h-1zM668 278h2v1h-2zM673 278h2v1h-2zM943 278h1v1h-1zM93 279h1v1h-1zM670 279h3v1h-3zM944 279h1v1h-1zM92 280h1v1h-1zM944 280h1v1h-1zM91 281h1v1h-1zM945 281h1v1h-1zM90 282h1v1h-1zM946 282h1v1h-1zM89 283h1v1h-1zM947 283h1v1h-1zM88 284h1v1h-1zM947 284h1v1h-1zM88 285h1v1h-1zM948 285h1v1h-1zM87 286h1v1h-1zM949 286h1v1h-1zM86 287h1v1h-1zM949 287h1v1h-1zM85 288h1v1h-1zM950 288h1v1h-1zM85 289h1v1h-1zM950 289h1v1h-1zM84 290h1v1h-1zM951 290h1v1h-1zM83 291h1v1h-1zM952 291h1v1h-1zM82 292h1v1h-1zM952 292h1v1h-1zM82 293h1v1h-1zM953 293h1v1h-1zM81 294h1v1h-1zM954 294h1v1h-1zM80 295h1v1h-1zM954 295h1v1h-1zM79 296h1v1h-1zM955 296h1v1h-1zM78 297h1v1h-1zM956 297h1v1h-1zM78 298h1v1h-1zM957 298h1v1h-1zM77 299h1v1h-1zM957 299h1v1h-1zM76 300h1v1h-1zM958 300h1v1h-1zM75 301h1v1h-1zM959 301h1v1h-1zM75 302h1v1h-1zM960 302h1v1h-1zM1034 302h1v1h-1zM74 303h1v1h-1zM961 303h1v1h-1zM1032 303h2v1h-2zM73 304h1v1h-1zM961 304h1v1h-1zM1030 304h2v1h-2zM73 305h1v1h-1zM962 305h1v1h-1zM1029 305h1v1h-1zM72 306h1v1h-1zM963 306h1v1h-1zM1027 306h2v1h-2zM71 307h1v1h-1zM964 307h1v1h-1zM1026 307h1v1h-1zM71 308h1v1h-1zM964 308h1v1h-1zM1025 308h1v1h-1zM70 309h1v1h-1zM965 309h1v1h-1zM1023 309h2v1h-2zM69 310h1v1h-1zM966 310h1v1h-1zM1022 310h1v1h-1zM68 311h1v1h-1zM967 311h1v1h-1zM1020 311h2v1h-2zM67 312h1v1h-1zM968 312h1v1h-1zM1019 312h1v1h-1zM66 313h1v1h-1zM968 313h1v1h-1zM1017 313h2v1h-2zM66 314h1v1h-1zM969 314h1v1h-1zM1016 314h1v1h-1zM65 315h1v1h-1zM970 315h1v1h-1zM1014 315h2v1h-2zM64 316h1v1h-1zM971 316h1v1h-1zM1013 316h1v1h-1zM63 317h1v1h-1zM972 317h1v1h-1zM1011 317h2v1h-2zM62 318h1v1h-1zM973 318h2v1h-2zM989 318h13v1h-13zM1008 318h3v1h-3zM60 319h2v1h-2zM975 319h1v1h-1zM985 319h4v1h-4zM1002 319h6v1h-6zM59 320h1v1h-1zM976 320h9v1h-9zM58 321h1v1h-1zM56 322h2v1h-2zM54 323h2v1h-2zM52 324h2v1h-2zM50 325h2v1h-2zM48 326h2v1h-2zM46 327h2v1h-2zM44 328h2v1h-2zM42 329h2v1h-2zM39 330h3v1h-3zM36 331h3v1h-3zM33 332h3v1h-3zM30 333h3v1h-3zM23 334h7v1h-7zM16 335h7v1h-7zM13 336h3v1h-3zM8 337h5v1h-5zM2 338h6v1h-6zM0 339h2v1h-2z" fill="#0000CD"/>
<rect x="2" y="330" width="1" height="31" fill="#FF0000"/>
<rect x="1" y="332" width="3" height="29" fill="#FF0000"/>
<rect x="2" y="333" width="1" height="27" fill="#FF4500"/>
<rect x="6" y="333" width="1" height="35" fill="#32CD32"/>
<rect x="5" y="334" width="3" height="10" fill="#32CD32"/>
<rect x="6" y="335" width="1" height="8" fill="#32CD32"/>
<rect x="10" y="337" width="1" height="43" fill="#FF0000"/>
<rect x="9" y="340" width="3" height="4" fill="#FF0000"/>
<rect x="10" y="341" width="1" height="2" fill="#FF4500"/>
<rect x="14" y="317" width="1" height="28" fill="#FF0000"/>
<rect x="13" y="336" width="3" height="5" fill="#FF0000"/>
<rect x="14" y="337" width="1" height="3" fill="#FF4500"/>
<rect x="18" y="318" width="1" height="19" fill="#FF0000"/>
<rect x="17" y="326" width="3" height="11" fill="#FF0000"/>
<rect x="18" y="327" width="1" height="9" fill="#FF4500"/>
<rect x="22" y="314" width="1" height="17" fill="#FF0000"/>
<rect x="21" y="317" width="3" height="12" fill="#FF0000"/>
<rect x="22" y="318" width="1" height="10" fill="#FF4500"/>
<rect x="26" y="308" width="1" height="14" fill="#FF0000"/>
<rect x="25" y="314" width="3" height="4" fill="#FF0000"/>
<rect x="26" y="315" width="1" height="2" fill="#FF4500"/>
<rect x="30" y="295" width="1" height="30" fill="#FF0000"/>
<rect x="29" y="301" width="3" height="15" fill="#FF0000"/>
<rect x="30" y="302" width="1" height="13" fill="#FF4500"/>
<rect x="34" y="281" width="1" height="27" fill="#FF0000"/>
<rect x="33" y="296" width="3" height="6" fill="#FF0000"/>
<rect x="34" y="297" width="1" height="4" fill="#FF4500"/>
<rect x="38" y="289" width="1" height="21" fill="#FF0000"/>
<rect x="37" y="296" width="3" height="2" fill="#FF0000"/>
<rect x="42" y="264" width="1" height="37" fill="#FF0000"/>
<rect x="41" y="266" width="3" height="31" fill="#FF0000"/>
<rect x="42" y="267" width="1" height="29" fill="#FF4500"/>
<rect x="46" y="259" width="1" height="14" fill="#32CD32"/>
<rect x="45" y="267" width="3" height="3" fill="#32CD32"/>
<rect x="46" y="268" width="1" height="1" fill="#32CD32"/>
<rect x="50" y="264" width="1" height="10" fill="#32CD32"/>
<rect x="49" y="264" width="3" height="6" fill="#32CD32"/>
<rect x="50" y="265" width="1" height="4" fill="#32CD32"/>
<rect x="54" y="256" width="1" height="42" fill="#32CD32"/>
<rect x="53" y="264" width="3" height="30" fill="#32CD32"/>
<rect x="54" y="265" width="1" height="28" fill="#32CD32"/>
<rect x="58" y="236" width="1" height="68" fill="#FF0000"/>
<rect x="57" y="258" width="3" height="36" fill="#FF0000"/>
<rect x="58" y="259" width="1" height="34" fill="#FF4500"/>
<rect x="62" y="248" width="1" height="33" fill="#32CD32"/>
<rect x="61" y="258" width="3" height="20" fill="#32CD32"/>
<rect x="62" y="259" width="1" height="18" fill="#32CD32"/>
<rect x="66" y="252" width="1" height="34" fill="#FF0000"/>
<rect x="65" y="256" width="3" height="22" fill="#FF0000"/>
<rect x="66" y="257" width="1" height="20" fill="#FF4500"/>
<rect x="70" y="238" width="1" height="26" fill="#FF0000"/>
<rect x="69" y="242" width="3" height="15" fill="#FF0000"/>
<rect x="70" y="243" width="1" height="13" fill="#FF4500"/>
<rect x="74" y="241" width="1" height="13" fill="#32CD32"/>
<rect x="73" y="242" width="3" height="10" fill="#32CD32"/>
<rect x="74" y="243" width="1" height="8" fill="#32CD32"/>
<rect x="78" y="234" width="1" height="32" fill="#32CD32"/>
<rect x="77" y="250" width="3" height="14" fill="#32CD32"/>
<rect x="78" y="251" width="1" height="12" fill="#32CD32"/>
<rect x="82" y="252" width="1" height="15" fill="#FF0000"/>
<rect x="81" y="260" width="3" height="5" fill="#FF0000"/>
<rect x="82" y="261" width="1" height="3" fill="#FF4500"/>
<rect x="86" y="241" width="1" height="20" fill="#FF0000"/>
<rect x="85" y="244" width="3" height="17" fill="#FF0000"/>
<rect x="86" y="245" width="1" height="15" fill="#FF4500"/>
<rect x="90" y="233" width="1" height="21" fill="#FF0000"/>
<rect x="89" y="241" width="3" height="3" fill="#FF0000"/>
<rect x="90" y="242" width="1" height="1" fill="#FF4500"/>
<rect x="94" y="241" width="1" height="15" fill="#FF0000"/>
<rect x="93" y="244" width="3" height="8" fill="#FF0000"/>
<rect x="94" y="245" width="1" height="6" fill="#FF4500"/>
<rect x="98" y="241" width="1" height="25" fill="#32CD32"/>
<rect x="97" y="244" width="3" height="10" fill="#32CD32"/>
<rect x="98" y="245" width="1" height="8" fill="#32CD32"/>
<rect x="102" y="230" width="1" height="50" fill="#FF0000"/>
<rect x="101" y="238" width="3" height="16" fill="#FF0000"/>
<rect x="102" y="239" width="1" height="14" fill="#FF4500"/>
<rect x="106" y="237" width="1" height="21" fill="#32CD32"/>
<rect x="105" y="238" width="3" height="8" fill="#32CD32"/>
<rect x="106" y="239" width="1" height="6" fill="#32CD32"/>
<rect x="110" y="234" width="1" height="20" fill="#32CD32"/>
<rect x="109" y="245" width="3" height="5" fill="#32CD32"/>
<rect x="110" y="246" width="1" height="3" fill="#32CD32"/>
<rect x="114" y="236" width="1" height="25" fill="#32CD32"/>
<rect x="113" y="249" width="3" height="3" fill="#32CD32"/>
<rect x="114" y="250" width="1" height="1" fill="#32CD32"/>
<rect x="118" y="248" width="1" height="13" fill="#FF0000"/>
<rect x="117" y="250" width="3" height="3" fill="#FF0000"/>
<rect x="118" y="251" width="1" height="1" fill="#FF4500"/>
<rect x="122" y="244" width="1" height="10" fill="#FF0000"/>
<rect x="121" y="249" width="3" height="4" fill="#FF0000"/>
<rect x="122" y="250" width="1" height="2" fill="#FF4500"/>
<rect x="126" y="242" width="1" height="37" fill="#32CD32"/>
<rect x="125" y="250" width="3" height="28" fill="#32CD32"/>
<rect x="126" y="251" width="1" height="26" fill="#32CD32"/>
<rect x="130" y="252" width="1" height="28" fill="#FF0000"/>
<rect x="129" y="270" width="3" height="8" fill="#FF0000"/>
<rect x="130" y="271" width="1" height="6" fill="#FF4500"/>
<rect x="134" y="258" width="1" height="22" fill="#32CD32"/>
<rect x="133" y="270" width="3" height="6" fill="#32CD32"/>
<rect x="134" y="271" width="1" height="4" fill="#32CD32"/>
<rect x="138" y="256" width="1" height="26" fill="#FF0000"/>
<rect x="137" y="266" width="3" height="10" fill="#FF0000"/>
<rect x="138" y="267" width="1" height="8" fill="#FF4500"/>
<rect x="142" y="258" width="1" height="16" fill="#FF0000"/>
<rect x="141" y="260" width="3" height="8" fill="#FF0000"/>
<rect x="142" y="261" width="1" height="6" fill="#FF4500"/>
<rect x="146" y="257" width="1" height="15" fill="#32CD32"/>
<rect x="145" y="258" width="3" height="6" fill="#32CD32"/>
<rect x="146" y="259" width="1" height="4" fill="#32CD32"/>
<rect x="150" y="235" width="1" height="43" fill="#FF0000"/>
<rect x="149" y="243" width="3" height="20" fill="#FF0000"/>
<rect x="150" y="244" width="1" height="18" fill="#FF4500"/>
<rect x="154" y="220" width="1" height="30" fill="#FF0000"/>
<rect x="153" y="223" width="3" height="22" fill="#FF0000"/>
<rect x="154" y="224" width="1" height="20" fill="#FF4500"/>
<rect x="158" y="222" width="1" height="27" fill="#32CD32"/>
<rect x="157" y="225" width="3" height="4" fill="#32CD32"/>
<rect x="158" y="226" width="1" height="2" fill="#32CD32"/>
<rect x="162" y="218" width="1" height="29" fill="#32CD32"/>
<rect x="161" y="227" width="3" height="19" fill="#32CD32"/>
<rect x="162" y="228" width="1" height="17" fill="#32CD32"/>
<rect x="166" y="233" width="1" height="22" fill="#32CD32"/>
<rect x="165" y="242" width="3" height="12" fill="#32CD32"/>
<rect x="166" y="243" width="1" height="10" fill="#32CD32"/>
<rect x="170" y="246" width="1" height="15" fill="#32CD32"/>
<rect x="169" y="251" width="3" height="7" fill="#32CD32"/>
<rect x="170" y="252" width="1" height="5" fill="#32CD32"/>
<rect x="174" y="221" width="1" height="41" fill="#FF0000"/>
<rect x="173" y="223" width="3" height="35" fill="#FF0000"/>
<rect x="174" y="224" width="1" height="33" fill="#FF4500"/>
<rect x="178" y="186" width="1" height="45" fill="#FF0000"/>
<rect x="177" y="189" width="3" height="36" fill="#FF0000"/>
<rect x="178" y="190" width="1" height="34" fill="#FF4500"/>
<rect x="182" y="183" width="1" height="19" fill="#32CD32"/>
<rect x="181" y="190" width="3" height="5" fill="#32CD32"/>
<rect x="182" y="191" width="1" height="3" fill="#32CD32"/>
<rect x="186" y="190" width="1" height="21" fill="#32CD32"/>
<rect x="185" y="194" width="3" height="16" fill="#32CD32"/>
<rect x="186" y="195" width="1" height="14" fill="#32CD32"/>
<rect x="190" y="197" width="1" height="46" fill="#FF0000"/>
<rect x="189" y="201" width="3" height="9" fill="#FF0000"/>
<rect x="190" y="202" width="1" height="7" fill="#FF4500"/>
<rect x="194" y="197" width="1" height="13" fill="#32CD32"/>
<rect x="193" y="201" width="3" height="4" fill="#32CD32"/>
<rect x="194" y="202" width="1" height="2" fill="#32CD32"/>
<rect x="198" y="191" width="1" height="42" fill="#FF0000"/>
<rect x="197" y="195" width="3" height="10" fill="#FF0000"/>
<rect x="198" y="196" width="1" height="8" fill="#FF4500"/>
<rect x="202" y="173" width="1" height="30" fill="#32CD32"/>
<rect x="201" y="195" width="3" height="2" fill="#32CD32"/>
<rect x="206" y="193" width="1" height="46" fill="#32CD32"/>
<rect x="205" y="195" width="3" height="36" fill="#32CD32"/>
<rect x="206" y="196" width="1" height="34" fill="#32CD32"/>
<rect x="210" y="221" width="1" height="24" fill="#32CD32"/>
<rect x="209" y="229" width="3" height="14" fill="#32CD32"/>
<rect x="210" y="230" width="1" height="12" fill="#32CD32"/>
<rect x="214" y="222" width="1" height="21" fill="#FF0000"/>
<rect x="213" y="223" width="3" height="20" fill="#FF0000"/>
<rect x="214" y="224" width="1" height="18" fill="#FF4500"/>
<rect x="218" y="222" width="1" height="13" fill="#32CD32"/>
<rect x="217" y="223" width="3" height="4" fill="#32CD32"/>
<rect x="218" y="224" width="1" height="2" fill="#32CD32"/>
<rect x="222" y="195" width="1" height="42" fill="#FF0000"/>
<rect x="221" y="207" width="3" height="20" fill="#FF0000"/>
<rect x="222" y="208" width="1" height="18" fill="#FF4500"/>
<rect x="226" y="194" width="1" height="29" fill="#FF0000"/>
<rect x="225" y="206" width="3" height="2" fill="#FF0000"/>
<rect x="230" y="194" width="1" height="20" fill="#FF0000"/>
<rect x="229" y="197" width="3" height="10" fill="#FF0000"/>
<rect x="230" y="198" width="1" height="8" fill="#FF4500"/>
<rect x="234" y="176" width="1" height="26" fill="#FF0000"/>
<rect x="233" y="183" width="3" height="17" fill="#FF0000"/>
<rect x="234" y="184" width="1" height="15" fill="#FF4500"/>
<rect x="238" y="177" width="1" height="14" fill="#FF0000"/>
<rect x="237" y="179" width="3" height="6" fill="#FF0000"/>
<rect x="238" y="180" width="1" height="4" fill="#FF4500"/>
<rect x="242" y="178" width="1" height="9" fill="#32CD32"/>
<rect x="241" y="179" width="3" height="7" fill="#32CD32"/>
<rect x="242" y="180" width="1" height="5" fill="#32CD32"/>
<rect x="246" y="164" width="1" height="33" fill="#FF0000"/>
<rect x="245" y="178" width="3" height="8" fill="#FF0000"/>
<rect x="246" y="179" width="1" height="6" fill="#FF4500"/>
<rect x="250" y="167" width="1" height="30" fill="#FF0000"/>
<rect x="249" y="171" width="3" height="9" fill="#FF0000"/>
<rect x="250" y="172" width="1" height="7" fill="#FF4500"/>
<rect x="254" y="143" width="1" height="36" fill="#FF0000"/>
<rect x="253" y="148" width="3" height="24" fill="#FF0000"/>
<rect x="254" y="149" width="1" height="22" fill="#FF4500"/>
<rect x="258" y="142" width="1" height="20" fill="#FF0000"/>
<rect x="257" y="144" width="3" height="6" fill="#FF0000"/>
<rect x="258" y="145" width="1" height="4" fill="#FF4500"/>
<rect x="262" y="135" width="1" height="12" fill="#FF0000"/>
<rect x="261" y="138" width="3" height="8" fill="#FF0000"/>
<rect x="262" y="139" width="1" height="6" fill="#FF4500"/>
<rect x="266" y="139" width="1" height="9" fill="#32CD32"/>
<rect x="265" y="141" width="3" height="3" fill="#32CD32"/>
<rect x="266" y="142" width="1" height="1" fill="#32CD32"/>
<rect x="270" y="132" width="1" height="33" fill="#FF0000"/>
<rect x="269" y="134" width="3" height="10" fill="#FF0000"/>
<rect x="270" y="135" width="1" height="8" fill="#FF4500"/>
<rect x="274" y="112" width="1" height="40" fill="#FF0000"/>
<rect x="273" y="127" width="3" height="9" fill="#FF0000"/>
<rect x="274" y="128" width="1" height="7" fill="#FF4500"/>
<rect x="278" y="125" width="1" height="40" fill="#32CD32"/>
<rect x="277" y="126" width="3" height="10" fill="#32CD32"/>
<rect x="278" y="127" width="1" height="8" fill="#32CD32"/>
<rect x="282" y="89" width="1" height="48" fill="#FF0000"/>
<rect x="281" y="119" width="3" height="17" fill="#FF0000"/>
<rect x="282" y="120" width="1" height="15" fill="#FF4500"/>
<rect x="286" y="100" width="1" height="23" fill="#32CD32"/>
<rect x="285" y="118" width="3" height="4" fill="#32CD32"/>
<rect x="286" y="119" width="1" height="2" fill="#32CD32"/>
<rect x="290" y="117" width="1" height="15" fill="#32CD32"/>
<rect x="289" y="121" width="3" height="5" fill="#32CD32"/>
<rect x="290" y="122" width="1" height="3" fill="#32CD32"/>
<rect x="294" y="124" width="1" height="49" fill="#32CD32"/>
<rect x="293" y="126" width="3" height="35" fill="#32CD32"/>
<rect x="294" y="127" width="1" height="33" fill="#32CD32"/>
<rect x="298" y="155" width="1" height="24" fill="#32CD32"/>
<rect x="297" y="160" width="3" height="3" fill="#32CD32"/>
<rect x="298" y="161" width="1" height="1" fill="#32CD32"/>
<rect x="302" y="156" width="1" height="50" fill="#FF0000"/>
<rect x="301" y="163" width="3" height="4" fill="#FF0000"/>
<rect x="302" y="164" width="1" height="2" fill="#FF4500"/>
<rect x="306" y="162" width="1" height="36" fill="#32CD32"/>
<rect x="305" y="165" width="3" height="16" fill="#32CD32"/>
<rect x="306" y="166" width="1" height="14" fill="#32CD32"/>
<rect x="310" y="172" width="1" height="12" fill="#FF0000"/>
<rect x="309" y="176" width="3" height="7" fill="#FF0000"/>
<rect x="310" y="177" width="1" height="5" fill="#FF4500"/>
<rect x="314" y="175" width="1" height="17" fill="#32CD32"/>
<rect x="313" y="176" width="3" height="13" fill="#32CD32"/>
<rect x="314" y="177" width="1" height="11" fill="#32CD32"/>
<rect x="318" y="181" width="1" height="37" fill="#32CD32"/>
<rect x="317" y="188" width="3" height="26" fill="#32CD32"/>
<rect x="318" y="189" width="1" height="24" fill="#32CD32"/>
<rect x="322" y="188" width="1" height="58" fill="#FF0000"/>
<rect x="321" y="189" width="3" height="25" fill="#FF0000"/>
<rect x="322" y="190" width="1" height="23" fill="#FF4500"/>
<rect x="326" y="160" width="1" height="47" fill="#FF0000"/>
<rect x="325" y="162" width="3" height="36" fill="#FF0000"/>
<rect x="326" y="163" width="1" height="34" fill="#FF4500"/>
<rect x="330" y="145" width="1" height="29" fill="#FF0000"/>
<rect x="329" y="147" width="3" height="16" fill="#FF0000"/>
<rect x="330" y="148" width="1" height="14" fill="#FF4500"/>
<rect x="334" y="152" width="1" height="26" fill="#FF0000"/>
<rect x="333" y="154" width="3" height="23" fill="#FF0000"/>
<rect x="334" y="155" width="1" height="21" fill="#FF4500"/>
<rect x="338" y="147" width="1" height="19" fill="#FF0000"/>
<rect x="337" y="152" width="3" height="3" fill="#FF0000"/>
<rect x="338" y="153" width="1" height="1" fill="#FF4500"/>
<rect x="342" y="140" width="1" height="21" fill="#FF0000"/>
<rect x="341" y="149" width="3" height="5" fill="#FF0000"/>
<rect x="342" y="150" width="1" height="3" fill="#FF4500"/>
<rect x="346" y="121" width="1" height="36" fill="#32CD32"/>
<rect x="345" y="149" width="3" height="6" fill="#32CD32"/>
<rect x="346" y="150" width="1" height="4" fill="#32CD32"/>
<rect x="350" y="140" width="1" height="21" fill="#FF0000"/>
<rect x="349" y="141" width="3" height="14" fill="#FF0000"/>
<rect x="350" y="142" width="1" height="12" fill="#FF4500"/>
<rect x="354" y="136" width="1" height="33" fill="#32CD32"/>
<rect x="353" y="141" width="3" height="18" fill="#32CD32"/>
<rect x="354" y="142" width="1" height="16" fill="#32CD32"/>
<rect x="358" y="146" width="1" height="14" fill="#FF0000"/>
<rect x="357" y="149" width="3" height="10" fill="#FF0000"/>
<rect x="358" y="150" width="1" height="8" fill="#FF4500"/>
<rect x="362" y="138" width="1" height="20" fill="#32CD32"/>
<rect x="361" y="149" width="3" height="8" fill="#32CD32"/>
<rect x="362" y="150" width="1" height="6" fill="#32CD32"/>
<rect x="366" y="143" width="1" height="22" fill="#FF0000"/>
<rect x="365" y="152" width="3" height="5" fill="#FF0000"/>
<rect x="366" y="153" width="1" height="3" fill="#FF4500"/>
<rect x="370" y="148" width="1" height="32" fill="#32CD32"/>
<rect x="369" y="152" width="3" height="11" fill="#32CD32"/>
<rect x="370" y="153" width="1" height="9" fill="#32CD32"/>
<rect x="374" y="156" width="1" height="14" fill="#FF0000"/>
<rect x="373" y="158" width="3" height="4" fill="#FF0000"/>
<rect x="374" y="159" width="1" height="2" fill="#FF4500"/>
<rect x="378" y="152" width="1" height="17" fill="#32CD32"/>
<rect x="377" y="158" width="3" height="8" fill="#32CD32"/>
<rect x="378" y="159" width="1" height="6" fill="#32CD32"/>
<rect x="382" y="143" width="1" height="77" fill="#32CD32"/>
<rect x="381" y="165" width="3" height="24" fill="#32CD32"/>
<rect x="382" y="166" width="1" height="22" fill="#32CD32"/>
<rect x="386" y="182" width="1" height="37" fill="#FF0000"/>
<rect x="385" y="185" width="3" height="4" fill="#FF0000"/>
<rect x="386" y="186" width="1" height="2" fill="#FF4500"/>
<rect x="390" y="184" width="1" height="80" fill="#32CD32"/>
<rect x="389" y="185" width="3" height="79" fill="#32CD32"/>
<rect x="390" y="186" width="1" height="77" fill="#32CD32"/>
<rect x="394" y="223" width="1" height="42" fill="#FF0000"/>
<rect x="393" y="233" width="3" height="31" fill="#FF0000"/>
<rect x="394" y="234" width="1" height="29" fill="#FF4500"/>
<rect x="398" y="210" width="1" height="32" fill="#FF0000"/>
<rect x="397" y="213" width="3" height="22" fill="#FF0000"/>
<rect x="398" y="214" width="1" height="20" fill="#FF4500"/>
<rect x="402" y="190" width="1" height="30" fill="#FF0000"/>
<rect x="401" y="201" width="3" height="13" fill="#FF0000"/>
<rect x="402" y="202" width="1" height="11" fill="#FF4500"/>
<rect x="406" y="171" width="1" height="32" fill="#FF0000"/>
<rect x="405" y="173" width="3" height="29" fill="#FF0000"/>
<rect x="406" y="174" width="1" height="27" fill="#FF4500"/>
<rect x="410" y="171" width="1" height="17" fill="#32CD32"/>
<rect x="409" y="172" width="3" height="12" fill="#32CD32"/>
<rect x="410" y="173" width="1" height="10" fill="#32CD32"/>
<rect x="414" y="167" width="1" height="29" fill="#FF0000"/>
<rect x="413" y="175" width="3" height="10" fill="#FF0000"/>
<rect x="414" y="176" width="1" height="8" fill="#FF4500"/>
<rect x="418" y="162" width="1" height="23" fill="#FF0000"/>
<rect x="417" y="172" width="3" height="4" fill="#FF0000"/>
<rect x="418" y="173" width="1" height="2" fill="#FF4500"/>
<rect x="422" y="166" width="1" height="16" fill="#32CD32"/>
<rect x="421" y="172" width="3" height="4" fill="#32CD32"/>
<rect x="422" y="173" width="1" height="2" fill="#32CD32"/>
<rect x="426" y="119" width="1" height="56" fill="#FF0000"/>
<rect x="425" y="122" width="3" height="53" fill="#FF0000"/>
<rect x="426" y="123" width="1" height="51" fill="#FF4500"/>
<rect x="430" y="118" width="1" height="23" fill="#32CD32"/>
<rect x="429" y="120" width="3" height="3" fill="#32CD32"/>
<rect x="430" y="121" width="1" height="1" fill="#32CD32"/>
<rect x="434" y="107" width="1" height="19" fill="#FF0000"/>
<rect x="433" y="111" width="3" height="9" fill="#FF0000"/>
<rect x="434" y="112" width="1" height="7" fill="#FF4500"/>
<rect x="438" y="100" width="1" height="38" fill="#32CD32"/>
<rect x="437" y="111" width="3" height="25" fill="#32CD32"/>
<rect x="438" y="112" width="1" height="23" fill="#32CD32"/>
<rect x="442" y="112" width="1" height="29" fill="#32CD32"/>
<rect x="441" y="123" width="3" height="12" fill="#32CD32"/>
<rect x="442" y="124" width="1" height="10" fill="#32CD32"/>
<rect x="446" y="121" width="1" height="31" fill="#32CD32"/>
<rect x="445" y="123" width="3" height="23" fill="#32CD32"/>
<rect x="446" y="124" width="1" height="21" fill="#32CD32"/>
<rect x="450" y="120" width="1" height="31" fill="#32CD32"/>
<rect x="449" y="137" width="3" height="10" fill="#32CD32"/>
<rect x="450" y="138" width="1" height="8" fill="#32CD32"/>
<rect x="454" y="129" width="1" height="14" fill="#FF0000"/>
<rect x="453" y="136" width="3" height="4" fill="#FF0000"/>
<rect x="454" y="137" width="1" height="2" fill="#FF4500"/>
<rect x="458" y="91" width="1" height="46" fill="#FF0000"/>
<rect x="457" y="92" width="3" height="44" fill="#FF0000"/>
<rect x="458" y="93" width="1" height="42" fill="#FF4500"/>
<rect x="462" y="79" width="1" height="26" fill="#FF0000"/>
<rect x="461" y="85" width="3" height="7" fill="#FF0000"/>
<rect x="462" y="86" width="1" height="5" fill="#FF4500"/>
<rect x="466" y="75" width="1" height="34" fill="#32CD32"/>
<rect x="465" y="85" width="3" height="4" fill="#32CD32"/>
<rect x="466" y="86" width="1" height="2" fill="#32CD32"/>
<rect x="470" y="85" width="1" height="15" fill="#32CD32"/>
<rect x="469" y="89" width="3" height="6" fill="#32CD32"/>
<rect x="470" y="90" width="1" height="4" fill="#32CD32"/>
<rect x="474" y="83" width="1" height="25" fill="#FF0000"/>
<rect x="473" y="85" width="3" height="10" fill="#FF0000"/>
<rect x="474" y="86" width="1" height="8" fill="#FF4500"/>
<rect x="478" y="69" width="1" height="22" fill="#FF0000"/>
<rect x="477" y="81" width="3" height="5" fill="#FF0000"/>
<rect x="478" y="82" width="1" height="3" fill="#FF4500"/>
<rect x="482" y="75" width="1" height="13" fill="#32CD32"/>
<rect x="481" y="81" width="3" height="4" fill="#32CD32"/>
<rect x="482" y="82" width="1" height="2" fill="#32CD32"/>
<rect x="486" y="48" width="1" height="41" fill="#FF0000"/>
<rect x="485" y="70" width="3" height="15" fill="#FF0000"/>
<rect x="486" y="71" width="1" height="13" fill="#FF4500"/>
<rect x="490" y="66" width="1" height="33" fill="#32CD32"/>
<rect x="489" y="70" width="3" height="12" fill="#32CD32"/>
<rect x="490" y="71" width="1" height="10" fill="#32CD32"/>
<rect x="494" y="80" width="1" height="27" fill="#32CD32"/>
<rect x="493" y="81" width="3" height="16" fill="#32CD32"/>
<rect x="494" y="82" width="1" height="14" fill="#32CD32"/>
<rect x="498" y="83" width="1" height="26" fill="#32CD32"/>
<rect x="497" y="97" width="3" height="5" fill="#32CD32"/>
<rect x="498" y="98" width="1" height="3" fill="#32CD32"/>
<rect x="502" y="100" width="1" height="36" fill="#32CD32"/>
<rect x="501" y="101" width="3" height="23" fill="#32CD32"/>
<rect x="502" y="102" width="1" height="21" fill="#32CD32"/>
<rect x="506" y="112" width="1" height="16" fill="#32CD32"/>
<rect x="505" y="123" width="3" height="3" fill="#32CD32"/>
<rect x="506" y="124" width="1" height="1" fill="#32CD32"/>
<rect x="510" y="78" width="1" height="48" fill="#FF0000"/>
<rect x="509" y="81" width="3" height="44" fill="#FF0000"/>
<rect x="510" y="82" width="1" height="42" fill="#FF4500"/>
<rect x="514" y="78" width="1" height="47" fill="#32CD32"/>
<rect x="513" y="80" width="3" height="43" fill="#32CD32"/>
<rect x="514" y="81" width="1" height="41" fill="#32CD32"/>
<rect x="518" y="105" width="1" height="22" fill="#FF0000"/>
<rect x="517" y="110" width="3" height="10" fill="#FF0000"/>
<rect x="518" y="111" width="1" height="8" fill="#FF4500"/>
<rect x="522" y="103" width="1" height="51" fill="#32CD32"/>
<rect x="521" y="110" width="3" height="41" fill="#32CD32"/>
<rect x="522" y="111" width="1" height="39" fill="#32CD32"/>
<rect x="526" y="116" width="1" height="39" fill="#FF0000"/>
<rect x="525" y="125" width="3" height="26" fill="#FF0000"/>
<rect x="526" y="126" width="1" height="24" fill="#FF4500"/>
<rect x="530" y="123" width="1" height="22" fill="#32CD32"/>
<rect x="529" y="125" width="3" height="18" fill="#32CD32"/>
<rect x="530" y="126" width="1" height="16" fill="#32CD32"/>
<rect x="534" y="111" width="1" height="48" fill="#FF0000"/>
<rect x="533" y="125" width="3" height="18" fill="#FF0000"/>
<rect x="534" y="126" width="1" height="16" fill="#FF4500"/>
<rect x="538" y="123" width="1" height="33" fill="#32CD32"/>
<rect x="537" y="125" width="3" height="18" fill="#32CD32"/>
<rect x="538" y="126" width="1" height="16" fill="#32CD32"/>
<rect x="542" y="129" width="1" height="34" fill="#FF0000"/>
<rect x="541" y="132" width="3" height="11" fill="#FF0000"/>
<rect x="542" y="133" width="1" height="9" fill="#FF4500"/>
<rect x="546" y="109" width="1" height="36" fill="#32CD32"/>
<rect x="545" y="130" width="3" height="8" fill="#32CD32"/>
<rect x="546" y="131" width="1" height="6" fill="#32CD32"/>
<rect x="550" y="114" width="1" height="29" fill="#FF0000"/>
<rect x="549" y="129" width="3" height="8" fill="#FF0000"/>
<rect x="550" y="130" width="1" height="6" fill="#FF4500"/>
<rect x="554" y="121" width="1" height="19" fill="#32CD32"/>
<rect x="553" y="129" width="3" height="7" fill="#32CD32"/>
<rect x="554" y="130" width="1" height="5" fill="#32CD32"/>
<rect x="558" y="108" width="1" height="33" fill="#FF0000"/>
<rect x="557" y="110" width="3" height="25" fill="#FF0000"/>
<rect x="558" y="111" width="1" height="23" fill="#FF4500"/>
<rect x="562" y="98" width="1" height="99" fill="#32CD32"/>
<rect x="561" y="110" width="3" height="74" fill="#32CD32"/>
<rect x="562" y="111" width="1" height="72" fill="#32CD32"/>
<rect x="566" y="172" width="1" height="16" fill="#FF0000"/>
<rect x="565" y="173" width="3" height="11" fill="#FF0000"/>
<rect x="566" y="174" width="1" height="9" fill="#FF4500"/>
<rect x="570" y="170" width="1" height="46" fill="#32CD32"/>
<rect x="569" y="173" width="3" height="36" fill="#32CD32"/>
<rect x="570" y="174" width="1" height="34" fill="#32CD32"/>
<rect x="574" y="205" width="1" height="17" fill="#FF0000"/>
<rect x="573" y="207" width="3" height="11" fill="#FF0000"/>
<rect x="574" y="208" width="1" height="9" fill="#FF4500"/>
<rect x="578" y="197" width="1" height="14" fill="#FF0000"/>
<rect x="577" y="203" width="3" height="6" fill="#FF0000"/>
<rect x="578" y="204" width="1" height="4" fill="#FF4500"/>
<rect x="582" y="201" width="1" height="57" fill="#32CD32"/>
<rect x="581" y="203" width="3" height="41" fill="#32CD32"/>
<rect x="582" y="204" width="1" height="39" fill="#32CD32"/>
<rect x="586" y="236" width="1" height="24" fill="#32CD32"/>
<rect x="585" y="242" width="3" height="14" fill="#32CD32"/>
<rect x="586" y="243" width="1" height="12" fill="#32CD32"/>
<rect x="590" y="255" width="1" height="40" fill="#32CD32"/>
<rect x="589" y="256" width="3" height="24" fill="#32CD32"/>
<rect x="590" y="257" width="1" height="22" fill="#32CD32"/>
<rect x="594" y="274" width="1" height="23" fill="#32CD32"/>
<rect x="593" y="279" width="3" height="5" fill="#32CD32"/>
<rect x="594" y="280" width="1" height="3" fill="#32CD32"/>
<rect x="598" y="279" width="1" height="23" fill="#32CD32"/>
<rect x="597" y="284" width="3" height="15" fill="#32CD32"/>
<rect x="598" y="285" width="1" height="13" fill="#32CD32"/>
<rect x="602" y="289" width="1" height="15" fill="#FF0000"/>
<rect x="601" y="295" width="3" height="4" fill="#FF0000"/>
<rect x="602" y="296" width="1" height="2" fill="#FF4500"/>
<rect x="606" y="287" width="1" height="31" fill="#FF0000"/>
<rect x="605" y="293" width="3" height="3" fill="#FF0000"/>
<rect x="606" y="294" width="1" height="1" fill="#FF4500"/>
<rect x="610" y="275" width="1" height="36" fill="#FF0000"/>
<rect x="609" y="287" width="3" height="8" fill="#FF0000"/>
<rect x="610" y="288" width="1" height="6" fill="#FF4500"/>
<rect x="614" y="269" width="1" height="20" fill="#FF0000"/>
<rect x="613" y="283" width="3" height="6" fill="#FF0000"/>
<rect x="614" y="284" width="1" height="4" fill="#FF4500"/>
<rect x="618" y="256" width="1" height="30" fill="#FF0000"/>
<rect x="617" y="269" width="3" height="16" fill="#FF0000"/>
<rect x="618" y="270" width="1" height="14" fill="#FF4500"/>
<rect x="622" y="260" width="1" height="14" fill="#32CD32"/>
<rect x="621" y="268" width="3" height="3" fill="#32CD32"/>
<rect x="622" y="269" width="1" height="1" fill="#32CD32"/>
<rect x="626" y="266" width="1" height="23" fill="#32CD32"/>
<rect x="625" y="270" width="3" height="10" fill="#32CD32"/>
<rect x="626" y="271" width="1" height="8" fill="#32CD32"/>
<rect x="630" y="259" width="1" height="26" fill="#FF0000"/>
<rect x="629" y="260" width="3" height="20" fill="#FF0000"/>
<rect x="630" y="261" width="1" height="18" fill="#FF4500"/>
<rect x="634" y="259" width="1" height="36" fill="#32CD32"/>
<rect x="633" y="260" width="3" height="4" fill="#32CD32"/>
<rect x="634" y="261" width="1" height="2" fill="#32CD32"/>
<rect x="638" y="259" width="1" height="24" fill="#FF0000"/>
<rect x="637" y="261" width="3" height="3" fill="#FF0000"/>
<rect x="638" y="262" width="1" height="1" fill="#FF4500"/>
<rect x="642" y="256" width="1" height="21" fill="#32CD32"/>
<rect x="641" y="262" width="3" height="13" fill="#32CD32"/>
<rect x="642" y="263" width="1" height="11" fill="#32CD32"/>
<rect x="646" y="269" width="1" height="14" fill="#32CD32"/>
<rect x="645" y="273" width="3" height="7" fill="#32CD32"/>
<rect x="646" y="274" width="1" height="5" fill="#32CD32"/>
<rect x="650" y="272" width="1" height="18" fill="#32CD32"/>
<rect x="649" y="278" width="3" height="6" fill="#32CD32"/>
<rect x="650" y="279" width="1" height="4" fill="#32CD32"/>
<rect x="654" y="273" width="1" height="30" fill="#FF0000"/>
<rect x="653" y="276" width="3" height="8" fill="#FF0000"/>
<rect x="654" y="277" width="1" height="6" fill="#FF4500"/>
<rect x="658" y="260" width="1" height="22" fill="#FF0000"/>
<rect x="657" y="269" width="3" height="8" fill="#FF0000"/>
<rect x="658" y="270" width="1" height="6" fill="#FF4500"/>
<rect x="662" y="262" width="1" height="13" fill="#32CD32"/>
<rect x="661" y="269" width="3" height="2" fill="#32CD32"/>
<rect x="666" y="260" width="1" height="22" fill="#32CD32"/>
<rect x="665" y="270" width="3" height="7" fill="#32CD32"/>
<rect x="666" y="271" width="1" height="5" fill="#32CD32"/>
<rect x="670" y="264" width="1" height="18" fill="#32CD32"/>
<rect x="669" y="275" width="3" height="5" fill="#32CD32"/>
<rect x="670" y="276" width="1" height="3" fill="#32CD32"/>
<rect x="674" y="271" width="1" height="14" fill="#FF0000"/>
<rect x="673" y="272" width="3" height="7" fill="#FF0000"/>
<rect x="674" y="273" width="1" height="5" fill="#FF4500"/>
<rect x="678" y="240" width="1" height="46" fill="#FF0000"/>
<rect x="677" y="242" width="3" height="33" fill="#FF0000"/>
<rect x="678" y="243" width="1" height="31" fill="#FF4500"/>
<rect x="682" y="230" width="1" height="28" fill="#FF0000"/>
<rect x="681" y="240" width="3" height="4" fill="#FF0000"/>
<rect x="682" y="241" width="1" height="2" fill="#FF4500"/>
<rect x="686" y="232" width="1" height="21" fill="#FF0000"/>
<rect x="685" y="236" width="3" height="4" fill="#FF0000"/>
<rect x="686" y="237" width="1" height="2" fill="#FF4500"/>
<rect x="690" y="230" width="1" height="11" fill="#32CD32"/>
<rect x="689" y="236" width="3" height="2" fill="#32CD32"/>
<rect x="694" y="224" width="1" height="22" fill="#FF0000"/>
<rect x="693" y="225" width="3" height="19" fill="#FF0000"/>
<rect x="694" y="226" width="1" height="17" fill="#FF4500"/>
<rect x="698" y="224" width="1" height="25" fill="#32CD32"/>
<rect x="697" y="225" width="3" height="23" fill="#32CD32"/>
<rect x="698" y="226" width="1" height="21" fill="#32CD32"/>
<rect x="702" y="238" width="1" height="25" fill="#32CD32"/>
<rect x="701" y="243" width="3" height="5" fill="#32CD32"/>
<rect x="702" y="244" width="1" height="3" fill="#32CD32"/>
<rect x="706" y="219" width="1" height="33" fill="#FF0000"/>
<rect x="705" y="221" width="3" height="26" fill="#FF0000"/>
<rect x="706" y="222" width="1" height="24" fill="#FF4500"/>
<rect x="710" y="214" width="1" height="10" fill="#FF0000"/>
<rect x="709" y="219" width="3" height="3" fill="#FF0000"/>
<rect x="710" y="220" width="1" height="1" fill="#FF4500"/>
<rect x="714" y="215" width="1" height="20" fill="#FF0000"/>
<rect x="713" y="217" width="3" height="5" fill="#FF0000"/>
<rect x="714" y="218" width="1" height="3" fill="#FF4500"/>
<rect x="718" y="216" width="1" height="21" fill="#32CD32"/>
<rect x="717" y="217" width="3" height="7" fill="#32CD32"/>
<rect x="718" y="218" width="1" height="5" fill="#32CD32"/>
<rect x="722" y="220" width="1" height="18" fill="#FF0000"/>
<rect x="721" y="222" width="3" height="3" fill="#FF0000"/>
<rect x="722" y="223" width="1" height="1" fill="#FF4500"/>
<rect x="726" y="202" width="1" height="25" fill="#FF0000"/>
<rect x="725" y="209" width="3" height="14" fill="#FF0000"/>
<rect x="726" y="210" width="1" height="12" fill="#FF4500"/>
<rect x="730" y="208" width="1" height="29" fill="#32CD32"/>
<rect x="729" y="210" width="3" height="4" fill="#32CD32"/>
<rect x="730" y="211" width="1" height="2" fill="#32CD32"/>
<rect x="734" y="209" width="1" height="16" fill="#32CD32"/>
<rect x="733" y="213" width="3" height="6" fill="#32CD32"/>
<rect x="734" y="214" width="1" height="4" fill="#32CD32"/>
<rect x="738" y="204" width="1" height="28" fill="#32CD32"/>
<rect x="737" y="218" width="3" height="6" fill="#32CD32"/>
<rect x="738" y="219" width="1" height="4" fill="#32CD32"/>
<rect x="742" y="213" width="1" height="15" fill="#FF0000"/>
<rect x="741" y="215" width="3" height="7" fill="#FF0000"/>
<rect x="742" y="216" width="1" height="5" fill="#FF4500"/>
<rect x="746" y="212" width="1" height="10" fill="#32CD32"/>
<rect x="745" y="215" width="3" height="6" fill="#32CD32"/>
<rect x="746" y="216" width="1" height="4" fill="#32CD32"/>
<rect x="750" y="203" width="1" height="24" fill="#32CD32"/>
<rect x="749" y="221" width="3" height="5" fill="#32CD32"/>
<rect x="750" y="222" width="1" height="3" fill="#32CD32"/>
<rect x="754" y="211" width="1" height="19" fill="#FF0000"/>
<rect x="753" y="216" width="3" height="10" fill="#FF0000"/>
<rect x="754" y="217" width="1" height="8" fill="#FF4500"/>
<rect x="758" y="198" width="1" height="20" fill="#FF0000"/>
<rect x="757" y="201" width="3" height="16" fill="#FF0000"/>
<rect x="758" y="202" width="1" height="14" fill="#FF4500"/>
<rect x="762" y="199" width="1" height="99" fill="#32CD32"/>
<rect x="761" y="201" width="3" height="90" fill="#32CD32"/>
<rect x="762" y="202" width="1" height="88" fill="#32CD32"/>
<rect x="766" y="283" width="1" height="14" fill="#32CD32"/>
<rect x="765" y="291" width="3" height="3" fill="#32CD32"/>
<rect x="766" y="292" width="1" height="1" fill="#32CD32"/>
<rect x="770" y="291" width="1" height="18" fill="#FF0000"/>
<rect x="769" y="292" width="3" height="1" fill="#FF0000"/>
<rect x="774" y="251" width="1" height="54" fill="#FF0000"/>
<rect x="773" y="252" width="3" height="41" fill="#FF0000"/>
<rect x="774" y="253" width="1" height="39" fill="#FF4500"/>
<rect x="778" y="237" width="1" height="44" fill="#32CD32"/>
<rect x="777" y="252" width="3" height="3" fill="#32CD32"/>
<rect x="778" y="253" width="1" height="1" fill="#32CD32"/>
<rect x="782" y="237" width="1" height="20" fill="#32CD32"/>
<rect x="781" y="254" width="3" height="2" fill="#32CD32"/>
<rect x="786" y="234" width="1" height="28" fill="#FF0000"/>
<rect x="785" y="250" width="3" height="5" fill="#FF0000"/>
<rect x="786" y="251" width="1" height="3" fill="#FF4500"/>
<rect x="790" y="245" width="1" height="26" fill="#32CD32"/>
<rect x="789" y="250" width="3" height="9" fill="#32CD32"/>
<rect x="790" y="251" width="1" height="7" fill="#32CD32"/>
<rect x="794" y="242" width="1" height="18" fill="#FF0000"/>
<rect x="793" y="246" width="3" height="13" fill="#FF0000"/>
<rect x="794" y="247" width="1" height="11" fill="#FF4500"/>
<rect x="798" y="241" width="1" height="25" fill="#FF0000"/>
<rect x="797" y="243" width="3" height="5" fill="#FF0000"/>
<rect x="798" y="244" width="1" height="3" fill="#FF4500"/>
<rect x="802" y="210" width="1" height="37" fill="#FF0000"/>
<rect x="801" y="215" width="3" height="30" fill="#FF0000"/>
<rect x="802" y="216" width="1" height="28" fill="#FF4500"/>
<rect x="806" y="201" width="1" height="26" fill="#32CD32"/>
<rect x="805" y="215" width="3" height="2" fill="#32CD32"/>
<rect x="810" y="206" width="1" height="21" fill="#FF0000"/>
<rect x="809" y="209" width="3" height="9" fill="#FF0000"/>
<rect x="810" y="210" width="1" height="7" fill="#FF4500"/>
<rect x="814" y="212" width="1" height="25" fill="#32CD32"/>
<rect x="813" y="215" width="3" height="21" fill="#32CD32"/>
<rect x="814" y="216" width="1" height="19" fill="#32CD32"/>
<rect x="818" y="228" width="1" height="17" fill="#32CD32"/>
<rect x="817" y="234" width="3" height="3" fill="#32CD32"/>
<rect x="818" y="235" width="1" height="1" fill="#32CD32"/>
<rect x="822" y="217" width="1" height="33" fill="#FF0000"/>
<rect x="821" y="218" width="3" height="17" fill="#FF0000"/>
<rect x="822" y="219" width="1" height="15" fill="#FF4500"/>
<rect x="826" y="210" width="1" height="32" fill="#32CD32"/>
<rect x="825" y="218" width="3" height="20" fill="#32CD32"/>
<rect x="826" y="219" width="1" height="18" fill="#32CD32"/>
<rect x="830" y="226" width="1" height="24" fill="#FF0000"/>
<rect x="829" y="228" width="3" height="8" fill="#FF0000"/>
<rect x="830" y="229" width="1" height="6" fill="#FF4500"/>
<rect x="834" y="217" width="1" height="19" fill="#FF0000"/>
<rect x="833" y="220" width="3" height="8" fill="#FF0000"/>
<rect x="834" y="221" width="1" height="6" fill="#FF4500"/>
<rect x="838" y="217" width="1" height="32" fill="#32CD32"/>
<rect x="837" y="219" width="3" height="29" fill="#32CD32"/>
<rect x="838" y="220" width="1" height="27" fill="#32CD32"/>
<rect x="842" y="246" width="1" height="14" fill="#32CD32"/>
<rect x="841" y="248" width="3" height="7" fill="#32CD32"/>
<rect x="842" y="249" width="1" height="5" fill="#32CD32"/>
<rect x="846" y="250" width="1" height="41" fill="#32CD32"/>
<rect x="845" y="254" width="3" height="22" fill="#32CD32"/>
<rect x="846" y="255" width="1" height="20" fill="#32CD32"/>
<rect x="850" y="252" width="1" height="33" fill="#FF0000"/>
<rect x="849" y="260" width="3" height="16" fill="#FF0000"/>
<rect x="850" y="261" width="1" height="14" fill="#FF4500"/>
<rect x="854" y="236" width="1" height="28" fill="#FF0000"/>
<rect x="853" y="237" width="3" height="26" fill="#FF0000"/>
<rect x="854" y="238" width="1" height="24" fill="#FF4500"/>
<rect x="858" y="225" width="1" height="20" fill="#FF0000"/>
<rect x="857" y="236" width="3" height="3" fill="#FF0000"/>
<rect x="858" y="237" width="1" height="1" fill="#FF4500"/>
<rect x="862" y="215" width="1" height="24" fill="#FF0000"/>
<rect x="861" y="216" width="3" height="22" fill="#FF0000"/>
<rect x="862" y="217" width="1" height="20" fill="#FF4500"/>
<rect x="866" y="200" width="1" height="20" fill="#FF0000"/>
<rect x="865" y="213" width="3" height="4" fill="#FF0000"/>
<rect x="866" y="214" width="1" height="2" fill="#FF4500"/>
<rect x="870" y="204" width="1" height="29" fill="#32CD32"/>
<rect x="869" y="213" width="3" height="17" fill="#32CD32"/>
<rect x="870" y="214" width="1" height="15" fill="#32CD32"/>
<rect x="874" y="206" width="1" height="36" fill="#FF0000"/>
<rect x="873" y="207" width="3" height="22" fill="#FF0000"/>
<rect x="874" y="208" width="1" height="20" fill="#FF4500"/>
<rect x="878" y="196" width="1" height="34" fill="#32CD32"/>
<rect x="877" y="207" width="3" height="19" fill="#32CD32"/>
<rect x="878" y="208" width="1" height="17" fill="#32CD32"/>
<rect x="882" y="222" width="1" height="20" fill="#32CD32"/>
<rect x="881" y="226" width="3" height="7" fill="#32CD32"/>
<rect x="882" y="227" width="1" height="5" fill="#32CD32"/>
<rect x="886" y="231" width="1" height="21" fill="#32CD32"/>
<rect x="885" y="233" width="3" height="13" fill="#32CD32"/>
<rect x="886" y="234" width="1" height="11" fill="#32CD32"/>
<rect x="890" y="234" width="1" height="25" fill="#32CD32"/>
<rect x="889" y="238" width="3" height="7" fill="#32CD32"/>
<rect x="890" y="239" width="1" height="5" fill="#32CD32"/>
<rect x="894" y="218" width="1" height="27" fill="#FF0000"/>
<rect x="893" y="228" width="3" height="11" fill="#FF0000"/>
<rect x="894" y="229" width="1" height="9" fill="#FF4500"/>
<rect x="898" y="225" width="1" height="98" fill="#32CD32"/>
<rect x="897" y="228" width="3" height="91" fill="#32CD32"/>
<rect x="898" y="229" width="1" height="89" fill="#32CD32"/>
<rect x="902" y="303" width="1" height="33" fill="#FF0000"/>
<rect x="901" y="305" width="3" height="13" fill="#FF0000"/>
<rect x="902" y="306" width="1" height="11" fill="#FF4500"/>
<rect x="906" y="287" width="1" height="23" fill="#FF0000"/>
<rect x="905" y="290" width="3" height="15" fill="#FF0000"/>
<rect x="906" y="291" width="1" height="13" fill="#FF4500"/>
<rect x="910" y="281" width="1" height="22" fill="#32CD32"/>
<rect x="909" y="290" width="3" height="6" fill="#32CD32"/>
<rect x="910" y="291" width="1" height="4" fill="#32CD32"/>
<rect x="914" y="291" width="1" height="11" fill="#32CD32"/>
<rect x="913" y="294" width="3" height="3" fill="#32CD32"/>
<rect x="914" y="295" width="1" height="1" fill="#32CD32"/>
<rect x="918" y="275" width="1" height="24" fill="#FF0000"/>
<rect x="917" y="282" width="3" height="14" fill="#FF0000"/>
<rect x="918" y="283" width="1" height="12" fill="#FF4500"/>
<rect x="922" y="279" width="1" height="44" fill="#32CD32"/>
<rect x="921" y="280" width="3" height="19" fill="#32CD32"/>
<rect x="922" y="281" width="1" height="17" fill="#32CD32"/>
<rect x="926" y="291" width="1" height="19" fill="#32CD32"/>
<rect x="925" y="299" width="3" height="8" fill="#32CD32"/>
<rect x="926" y="300" width="1" height="6" fill="#32CD32"/>
<rect x="930" y="300" width="1" height="42" fill="#32CD32"/>
<rect x="929" y="305" width="3" height="34" fill="#32CD32"/>
<rect x="930" y="306" width="1" height="32" fill="#32CD32"/>
<rect x="934" y="318" width="1" height="46" fill="#32CD32"/>
<rect x="933" y="325" width="3" height="34" fill="#32CD32"/>
<rect x="934" y="326" width="1" height="32" fill="#32CD32"/>
<rect x="938" y="343" width="1" height="18" fill="#FF0000"/>
<rect x="937" y="345" width="3" height="13" fill="#FF0000"/>
<rect x="938" y="346" width="1" height="11" fill="#FF4500"/>
<rect x="942" y="325" width="1" height="27" fill="#FF0000"/>
<rect x="941" y="329" width="3" height="18" fill="#FF0000"/>
<rect x="942" y="330" width="1" height="16" fill="#FF4500"/>
<rect x="946" y="321" width="1" height="32" fill="#32CD32"/>
<rect x="945" y="329" width="3" height="15" fill="#32CD32"/>
<rect x="946" y="330" width="1" height="13" fill="#32CD32"/>
<rect x="950" y="334" width="1" height="33" fill="#FF0000"/>
<rect x="949" y="339" width="3" height="3" fill="#FF0000"/>
<rect x="950" y="340" width="1" height="1" fill="#FF4500"/>
<rect x="954" y="323" width="1" height="25" fill="#FF0000"/>
<rect x="953" y="332" width="3" height="8" fill="#FF0000"/>
<rect x="954" y="333" width="1" height="6" fill="#FF4500"/>
<rect x="958" y="325" width="1" height="22" fill="#32CD32"/>
<rect x="957" y="332" width="3" height="10" fill="#32CD32"/>
<rect x="958" y="333" width="1" height="8" fill="#32CD32"/>
<rect x="962" y="336" width="1" height="12" fill="#FF0000"/>
<rect x="961" y="339" width="3" height="2" fill="#FF0000"/>
<rect x="966" y="336" width="1" height="39" fill="#32CD32"/>
<rect x="965" y="338" width="3" height="22" fill="#32CD32"/>
<rect x="966" y="339" width="1" height="20" fill="#32CD32"/>
<rect x="970" y="315" width="1" height="47" fill="#FF0000"/>
<rect x="969" y="322" width="3" height="39" fill="#FF0000"/>
<rect x="970" y="323" width="1" height="37" fill="#FF4500"/>
<rect x="974" y="301" width="1" height="26" fill="#FF0000"/>
<rect x="973" y="302" width="3" height="24" fill="#FF0000"/>
<rect x="974" y="303" width="1" height="22" fill="#FF4500"/>
<rect x="978" y="281" width="1" height="27" fill="#FF0000"/>
<rect x="977" y="294" width="3" height="8" fill="#FF0000"/>
<rect x="978" y="295" width="1" height="6" fill="#FF4500"/>
<rect x="982" y="287" width="1" height="15" fill="#32CD32"/>
<rect x="981" y="294" width="3" height="3" fill="#32CD32"/>
<rect x="982" y="295" width="1" height="1" fill="#32CD32"/>
<rect x="986" y="289" width="1" height="15" fill="#FF0000"/>
<rect x="985" y="290" width="3" height="8" fill="#FF0000"/>
<rect x="986" y="291" width="1" height="6" fill="#FF4500"/>
<rect x="990" y="278" width="1" height="22" fill="#FF0000"/>
<rect x="989" y="279" width="3" height="11" fill="#FF0000"/>
<rect x="990" y="280" width="1" height="9" fill="#FF4500"/>
<rect x="994" y="248" width="1" height="48" fill="#32CD32"/>
<rect x="993" y="279" width="3" height="11" fill="#32CD32"/>
<rect x="994" y="280" width="1" height="9" fill="#32CD32"/>
<rect x="998" y="286" width="1" height="24" fill="#32CD32"/>
<rect x="997" y="290" width="3" height="11" fill="#32CD32"/>
<rect x="998" y="291" width="1" height="9" fill="#32CD32"/>
<rect x="1002" y="290" width="1" height="22" fill="#FF0000"/>
<rect x="1001" y="292" width="3" height="9" fill="#FF0000"/>
<rect x="1002" y="293" width="1" height="7" fill="#FF4500"/>
<rect x="1006" y="279" width="1" height="23" fill="#FF0000"/>
<rect x="1005" y="281" width="3" height="13" fill="#FF0000"/>
<rect x="1006" y="282" width="1" height="11" fill="#FF4500"/>
<rect x="1010" y="279" width="1" height="10" fill="#32CD32"/>
<rect x="1009" y="281" width="3" height="4" fill="#32CD32"/>
<rect x="1010" y="282" width="1" height="2" fill="#32CD32"/>
<rect x="1014" y="282" width="1" height="30" fill="#32CD32"/>
<rect x="1013" y="284" width="3" height="18" fill="#32CD32"/>
<rect x="1014" y="285" width="1" height="16" fill="#32CD32"/>
<rect x="1018" y="272" width="1" height="43" fill="#FF0000"/>
<rect x="1017" y="283" width="3" height="19" fill="#FF0000"/>
<rect x="1018" y="284" width="1" height="17" fill="#FF4500"/>
<rect x="1022" y="262" width="1" height="26" fill="#32CD32"/>
<rect x="1021" y="282" width="3" height="3" fill="#32CD32"/>
<rect x="1022" y="283" width="1" height="1" fill="#32CD32"/>
<rect x="1026" y="275" width="1" height="16" fill="#32CD32"/>
<rect x="1025" y="284" width="3" height="4" fill="#32CD32"/>
<rect x="1026" y="285" width="1" height="2" fill="#32CD32"/>
<rect x="1030" y="279" width="1" height="19" fill="#FF0000"/>
<rect x="1029" y="284" width="3" height="6" fill="#FF0000"/>
<rect x="1030" y="285" width="1" height="4" fill="#FF4500"/>
<rect x="1033" y="284" width="3" height="1" fill="#FF0000"/><rect x="1034" y="284" width="1" height="5" fill="#FF0000"/>
<rect x="845" y="277" width="272" height="2" fill="#00FF00"/>
<rect x="979" y="241" width="140" height="2" fill="#FF0000"/>
<rect x="933" y="365" width="185" height="2" fill="#0000FF"/>
<rect x="2" y="453" width="1" height="18" fill="#C0C0C0"/>
<rect x="6" y="453" width="1" height="15" fill="#C0C0C0"/>
<rect x="10" y="453" width="1" height="14" fill="#C0C0C0"/>
<rect x="14" y="453" width="1" height="12" fill="#C0C0C0"/>
<rect x="18" y="453" width="1" height="10" fill="#C0C0C0"/>
<rect x="22" y="453" width="1" height="5" fill="#C0C0C0"/>
<rect x="26" y="453" width="1" height="2" fill="#C0C0C0"/>
<rect x="30" y="449" width="1" height="5" fill="#C0C0C0"/>
<rect x="34" y="446" width="1" height="8" fill="#C0C0C0"/>
<rect x="38" y="442" width="1" height="12" fill="#C0C0C0"/>
<rect x="42" y="435" width="1" height="19" fill="#C0C0C0"/>
<rect x="46" y="429" width="1" height="25" fill="#C0C0C0"/>
<rect x="50" y="425" width="1" height="29" fill="#C0C0C0"/>
<rect x="54" y="425" width="1" height="29" fill="#C0C0C0"/>
<rect x="58" y="422" width="1" height="32" fill="#C0C0C0"/>
<rect x="62" y="421" width="1" height="33" fill="#C0C0C0"/>
<rect x="66" y="418" width="1" height="36" fill="#C0C0C0"/>
<rect x="70" y="414" width="1" height="40" fill="#C0C0C0"/>
<rect x="74" y="413" width="1" height="41" fill="#C0C0C0"/>
<rect x="78" y="414" width="1" height="40" fill="#C0C0C0"/>
<rect x="82" y="415" width="1" height="39" fill="#C0C0C0"/>
<rect x="86" y="414" width="1" height="40" fill="#C0C0C0"/>
<rect x="90" y="413" width="1" height="41" fill="#C0C0C0"/>
<rect x="94" y="413" width="1" height="41" fill="#C0C0C0"/>
<rect x="98" y="415" width="1" height="39" fill="#C0C0C0"/>
<rect x="102" y="415" width="1" height="39" fill="#C0C0C0"/>
<rect x="106" y="415" width="1" height="39" fill="#C0C0C0"/>
<rect x="110" y="418" width="1" height="36" fill="#C0C0C0"/>
<rect x="114" y="421" width="1" height="33" fill="#C0C0C0"/>
<rect x="118" y="423" width="1" height="31" fill="#C0C0C0"/>
<rect x="122" y="425" width="1" height="29" fill="#C0C0C0"/>
<rect x="126" y="429" width="1" height="25" fill="#C0C0C0"/>
<rect x="130" y="434" width="1" height="20" fill="#C0C0C0"/>
<rect x="134" y="438" width="1" height="16" fill="#C0C0C0"/>
<rect x="138" y="441" width="1" height="13" fill="#C0C0C0"/>
<rect x="142" y="443" width="1" height="11" fill="#C0C0C0"/>
<rect x="146" y="443" width="1" height="11" fill="#C0C0C0"/>
<rect x="150" y="441" width="1" height="13" fill="#C0C0C0"/>
<rect x="154" y="437" width="1" height="17" fill="#C0C0C0"/>
<rect x="158" y="434" width="1" height="20" fill="#C0C0C0"/>
<rect x="162" y="434" width="1" height="20" fill="#C0C0C0"/>
<rect x="166" y="436" width="1" height="18" fill="#C0C0C0"/>
<rect x="170" y="439" width="1" height="15" fill="#C0C0C0"/>
<rect x="174" y="435" width="1" height="19" fill="#C0C0C0"/>
<rect x="178" y="429" width="1" height="25" fill="#C0C0C0"/>
<rect x="182" y="424" width="1" height="30" fill="#C0C0C0"/>
<rect x="186" y="422" width="1" height="32" fill="#C0C0C0"/>
<rect x="190" y="421" width="1" height="33" fill="#C0C0C0"/>
<rect x="194" y="420" width="1" height="34" fill="#C0C0C0"/>
<rect x="198" y="418" width="1" height="36" fill="#C0C0C0"/>
<rect x="202" y="417" width="1" height="37" fill="#C0C0C0"/>
<rect x="206" y="423" width="1" height="31" fill="#C0C0C0"/>
<rect x="210" y="428" width="1" height="26" fill="#C0C0C0"/>
<rect x="214" y="432" width="1" height="22" fill="#C0C0C0"/>
<rect x="218" y="434" width="1" height="20" fill="#C0C0C0"/>
<rect x="222" y="433" width="1" height="21" fill="#C0C0C0"/>
<rect x="226" y="433" width="1" height="21" fill="#C0C0C0"/>
<rect x="230" y="430" width="1" height="24" fill="#C0C0C0"/>
<rect x="234" y="428" width="1" height="26" fill="#C0C0C0"/>
<rect x="238" y="425" width="1" height="29" fill="#C0C0C0"/>
<rect x="242" y="424" width="1" height="30" fill="#C0C0C0"/>
<rect x="246" y="423" width="1" height="31" fill="#C0C0C0"/>
<rect x="250" y="421" width="1" height="33" fill="#C0C0C0"/>
<rect x="254" y="417" width="1" height="37" fill="#C0C0C0"/>
<rect x="258" y="412" width="1" height="42" fill="#C0C0C0"/>
<rect x="262" y="408" width="1" height="46" fill="#C0C0C0"/>
<rect x="266" y="407" width="1" height="47" fill="#C0C0C0"/>
<rect x="270" y="405" width="1" height="49" fill="#C0C0C0"/>
<rect x="274" y="402" width="1" height="52" fill="#C0C0C0"/>
<rect x="278" y="402" width="1" height="52" fill="#C0C0C0"/>
<rect x="282" y="400" width="1" height="54" fill="#C0C0C0"/>
<rect x="286" y="400" width="1" height="54" fill="#C0C0C0"/>
<rect x="290" y="401" width="1" height="53" fill="#C0C0C0"/>
<rect x="294" y="407" width="1" height="47" fill="#C0C0C0"/>
<rect x="298" y="413" width="1" height="41" fill="#C0C0C0"/>
<rect x="302" y="419" width="1" height="35" fill="#C0C0C0"/>
<rect x="306" y="426" width="1" height="28" fill="#C0C0C0"/>
<rect x="310" y="431" width="1" height="23" fill="#C0C0C0"/>
<rect x="314" y="438" width="1" height="16" fill="#C0C0C0"/>
<rect x="318" y="447" width="1" height="7" fill="#C0C0C0"/>
<rect x="322" y="452" width="1" height="2" fill="#C0C0C0"/>
<rect x="326" y="452" width="1" height="2" fill="#C0C0C0"/>
<rect x="330" y="447" width="1" height="7" fill="#C0C0C0"/>
<rect x="334" y="445" width="1" height="9" fill="#C0C0C0"/>
<rect x="338" y="442" width="1" height="12" fill="#C0C0C0"/>
<rect x="342" y="441" width="1" height="13" fill="#C0C0C0"/>
<rect x="346" y="441" width="1" height="13" fill="#C0C0C0"/>
<rect x="350" y="440" width="1" height="14" fill="#C0C0C0"/>
<rect x="354" y="440" width="1" height="14" fill="#C0C0C0"/>
<rect x="358" y="440" width="1" height="14" fill="#C0C0C0"/>
<rect x="362" y="441" width="1" height="13" fill="#C0C0C0"/>
<rect x="366" y="442" width="1" height="12" fill="#C0C0C0"/>
<rect x="370" y="443" width="1" height="11" fill="#C0C0C0"/>
<rect x="374" y="444" width="1" height="10" fill="#C0C0C0"/>
<rect x="378" y="447" width="1" height="7" fill="#C0C0C0"/>
<rect x="382" y="451" width="1" height="3" fill="#C0C0C0"/>
<rect x="386" y="453" width="1" height="2" fill="#C0C0C0"/>
<rect x="390" y="453" width="1" height="16" fill="#C0C0C0"/>
<rect x="394" y="453" width="1" height="25" fill="#C0C0C0"/>
<rect x="398" y="453" width="1" height="27" fill="#C0C0C0"/>
<rect x="402" y="453" width="1" height="26" fill="#C0C0C0"/>
<rect x="406" y="453" width="1" height="21" fill="#C0C0C0"/>
<rect x="410" y="453" width="1" height="18" fill="#C0C0C0"/>
<rect x="414" y="453" width="1" height="14" fill="#C0C0C0"/>
<rect x="418" y="453" width="1" height="11" fill="#C0C0C0"/>
<rect x="422" y="453" width="1" height="9" fill="#C0C0C0"/>
<rect x="426" y="452" width="1" height="2" fill="#C0C0C0"/>
<rect x="430" y="445" width="1" height="9" fill="#C0C0C0"/>
<rect x="434" y="436" width="1" height="18" fill="#C0C0C0"/>
<rect x="438" y="433" width="1" height="21" fill="#C0C0C0"/>
<rect x="442" y="430" width="1" height="24" fill="#C0C0C0"/>
<rect x="446" y="430" width="1" height="24" fill="#C0C0C0"/>
<rect x="450" y="431" width="1" height="23" fill="#C0C0C0"/>
<rect x="454" y="431" width="1" height="23" fill="#C0C0C0"/>
<rect x="458" y="425" width="1" height="29" fill="#C0C0C0"/>
<rect x="462" y="419" width="1" height="35" fill="#C0C0C0"/>
<rect x="466" y="415" width="1" height="39" fill="#C0C0C0"/>
<rect x="470" y="413" width="1" height="41" fill="#C0C0C0"/>
<rect x="474" y="410" width="1" height="44" fill="#C0C0C0"/>
<rect x="478" y="409" width="1" height="45" fill="#C0C0C0"/>
<rect x="482" y="408" width="1" height="46" fill="#C0C0C0"/>
<rect x="486" y="406" width="1" height="48" fill="#C0C0C0"/>
<rect x="490" y="406" width="1" height="48" fill="#C0C0C0"/>
<rect x="494" y="410" width="1" height="44" fill="#C0C0C0"/>
<rect x="498" y="414" width="1" height="40" fill="#C0C0C0"/>
<rect x="502" y="420" width="1" height="34" fill="#C0C0C0"/>
<rect x="506" y="427" width="1" height="27" fill="#C0C0C0"/>
<rect x="510" y="426" width="1" height="28" fill="#C0C0C0"/>
<rect x="514" y="430" width="1" height="24" fill="#C0C0C0"/>
<rect x="518" y="434" width="1" height="20" fill="#C0C0C0"/>
<rect x="522" y="440" width="1" height="14" fill="#C0C0C0"/>
<rect x="526" y="445" width="1" height="9" fill="#C0C0C0"/>
<rect x="530" y="451" width="1" height="3" fill="#C0C0C0"/>
<rect x="534" y="452" width="1" height="2" fill="#C0C0C0"/>
<rect x="538" y="453" width="1" height="2" fill="#C0C0C0"/>
<rect x="542" y="453" width="1" height="4" fill="#C0C0C0"/>
<rect x="546" y="453" width="1" height="5" fill="#C0C0C0"/>
<rect x="550" y="453" width="1" height="6" fill="#C0C0C0"/>
<rect x="554" y="453" width="1" height="6" fill="#C0C0C0"/>
<rect x="558" y="453" width="1" height="4" fill="#C0C0C0"/>
<rect x="562" y="453" width="1" height="12" fill="#C0C0C0"/>
<rect x="566" y="453" width="1" height="17" fill="#C0C0C0"/>
<rect x="570" y="453" width="1" height="28" fill="#C0C0C0"/>
<rect x="574" y="453" width="1" height="34" fill="#C0C0C0"/>
<rect x="578" y="453" width="1" height="39" fill="#C0C0C0"/>
<rect x="582" y="453" width="1" height="49" fill="#C0C0C0"/>
<rect x="586" y="453" width="1" height="57" fill="#C0C0C0"/>
<rect x="590" y="453" width="1" height="67" fill="#C0C0C0"/>
<rect x="594" y="453" width="1" height="77" fill="#C0C0C0"/>
<rect x="598" y="453" width="1" height="83" fill="#C0C0C0"/>
<rect x="602" y="453" width="1" height="88" fill="#C0C0C0"/>
<rect x="606" y="453" width="1" height="90" fill="#C0C0C0"/>
<rect x="610" y="453" width="1" height="91" fill="#C0C0C0"/>
<rect x="614" y="453" width="1" height="88" fill="#C0C0C0"/>
<rect x="618" y="453" width="1" height="84" fill="#C0C0C0"/>
<rect x="622" y="453" width="1" height="79" fill="#C0C0C0"/>
<rect x="626" y="453" width="1" height="76" fill="#C0C0C0"/>
<rect x="630" y="453" width="1" height="71" fill="#C0C0C0"/>
<rect x="634" y="453" width="1" height="66" fill="#C0C0C0"/>
<rect x="638" y="453" width="1" height="61" fill="#C0C0C0"/>
<rect x="642" y="453" width="1" height="58" fill="#C0C0C0"/>
<rect x="646" y="453" width="1" height="56" fill="#C0C0C0"/>
<rect x="650" y="453" width="1" height="54" fill="#C0C0C0"/>
<rect x="654" y="453" width="1" height="51" fill="#C0C0C0"/>
<rect x="658" y="453" width="1" height="48" fill="#C0C0C0"/>
<rect x="662" y="453" width="1" height="44" fill="#C0C0C0"/>
<rect x="666" y="453" width="1" height="41" fill="#C0C0C0"/>
<rect x="670" y="453" width="1" height="40" fill="#C0C0C0"/>
<rect x="674" y="453" width="1" height="37" fill="#C0C0C0"/>
<rect x="678" y="453" width="1" height="30" fill="#C0C0C0"/>
<rect x="682" y="453" width="1" height="24" fill="#C0C0C0"/>
<rect x="686" y="453" width="1" height="17" fill="#C0C0C0"/>
<rect x="690" y="453" width="1" height="12" fill="#C0C0C0"/>
<rect x="694" y="453" width="1" height="7" fill="#C0C0C0"/>
<rect x="698" y="453" width="1" height="4" fill="#C0C0C0"/>
<rect x="702" y="453" width="1" height="3" fill="#C0C0C0"/>
<rect x="706" y="452" width="1" height="2" fill="#C0C0C0"/>
<rect x="710" y="448" width="1" height="6" fill="#C0C0C0"/>
<rect x="714" y="445" width="1" height="9" fill="#C0C0C0"/>
<rect x="718" y="443" width="1" height="11" fill="#C0C0C0"/>
<rect x="722" y="442" width="1" height="12" fill="#C0C0C0"/>
<rect x="726" y="439" width="1" height="15" fill="#C0C0C0"/>
<rect x="730" y="438" width="1" height="16" fill="#C0C0C0"/>
<rect x="734" y="437" width="1" height="17" fill="#C0C0C0"/>
<rect x="738" y="438" width="1" height="16" fill="#C0C0C0"/>
<rect x="742" y="439" width="1" height="15" fill="#C0C0C0"/>
<rect x="746" y="439" width="1" height="15" fill="#C0C0C0"/>
<rect x="750" y="439" width="1" height="15" fill="#C0C0C0"/>
<rect x="754" y="438" width="1" height="16" fill="#C0C0C0"/>
<rect x="758" y="437" width="1" height="17" fill="#C0C0C0"/>
<rect x="762" y="450" width="1" height="4" fill="#C0C0C0"/>
<rect x="766" y="453" width="1" height="8" fill="#C0C0C0"/>
<rect x="770" y="453" width="1" height="16" fill="#C0C0C0"/>
<rect x="774" y="453" width="1" height="15" fill="#C0C0C0"/>
<rect x="778" y="453" width="1" height="15" fill="#C0C0C0"/>
<rect x="782" y="453" width="1" height="15" fill="#C0C0C0"/>
<rect x="786" y="453" width="1" height="14" fill="#C0C0C0"/>
<rect x="790" y="453" width="1" height="13" fill="#C0C0C0"/>
<rect x="794" y="453" width="1" height="12" fill="#C0C0C0"/>
<rect x="798" y="453" width="1" height="11" fill="#C0C0C0"/>
<rect x="802" y="453" width="1" height="4" fill="#C0C0C0"/>
<rect x="806" y="453" width="1" height="1" fill="#C0C0C0"/>
<rect x="810" y="448" width="1" height="6" fill="#C0C0C0"/>
<rect x="814" y="448" width="1" height="6" fill="#C0C0C0"/>
<rect x="818" y="448" width="1" height="6" fill="#C0C0C0"/>
<rect x="822" y="446" width="1" height="8" fill="#C0C0C0"/>
<rect x="826" y="449" width="1" height="5" fill="#C0C0C0"/>
<rect x="830" y="448" width="1" height="6" fill="#C0C0C0"/>
<rect x="834" y="446" width="1" height="8" fill="#C0C0C0"/>
<rect x="838" y="452" width="1" height="2" fill="#C0C0C0"/>
<rect x="842" y="453" width="1" height="2" fill="#C0C0C0"/>
<rect x="846" y="453" width="1" height="6" fill="#C0C0C0"/>
<rect x="850" y="453" width="1" height="8" fill="#C0C0C0"/>
<rect x="854" y="453" width="1" height="7" fill="#C0C0C0"/>
<rect x="858" y="453" width="1" height="6" fill="#C0C0C0"/>
<rect x="862" y="453" width="1" height="1" fill="#C0C0C0"/>
<rect x="866" y="450" width="1" height="4" fill="#C0C0C0"/>
<rect x="870" y="450" width="1" height="4" fill="#C0C0C0"/>
<rect x="874" y="445" width="1" height="9" fill="#C0C0C0"/>
<rect x="878" y="445" width="1" height="9" fill="#C0C0C0"/>
<rect x="882" y="447" width="1" height="7" fill="#C0C0C0"/>
<rect x="886" y="450" width="1" height="4" fill="#C0C0C0"/>
<rect x="890" y="450" width="1" height="4" fill="#C0C0C0"/>
<rect x="894" y="451" width="1" height="3" fill="#C0C0C0"/>
<rect x="898" y="453" width="1" height="12" fill="#C0C0C0"/>
<rect x="902" y="453" width="1" height="20" fill="#C0C0C0"/>
<rect x="906" y="453" width="1" height="25" fill="#C0C0C0"/>
<rect x="910" y="453" width="1" height="29" fill="#C0C0C0"/>
<rect x="914" y="453" width="1" height="30" fill="#C0C0C0"/>
<rect x="918" y="453" width="1" height="31" fill="#C0C0C0"/>
<rect x="922" y="453" width="1" height="32" fill="#C0C0C0"/>
<rect x="926" y="453" width="1" height="34" fill="#C0C0C0"/>
<rect x="930" y="453" width="1" height="42" fill="#C0C0C0"/>
<rect x="934" y="453" width="1" height="49" fill="#C0C0C0"/>
<rect x="938" y="453" width="1" height="54" fill="#C0C0C0"/>
<rect x="942" y="453" width="1" height="54" fill="#C0C0C0"/>
<rect x="946" y="453" width="1" height="55" fill="#C0C0C0"/>
<rect x="950" y="453" width="1" height="55" fill="#C0C0C0"/>
<rect x="954" y="453" width="1" height="53" fill="#C0C0C0"/>
<rect x="958" y="453" width="1" height="52" fill="#C0C0C0"/>
<rect x="962" y="453" width="1" height="53" fill="#C0C0C0"/>
<rect x="966" y="453" width="1" height="52" fill="#C0C0C0"/>
<rect x="970" y="453" width="1" height="48" fill="#C0C0C0"/>
<rect x="974" y="453" width="1" height="40" fill="#C0C0C0"/>
<rect x="978" y="453" width="1" height="32" fill="#C0C0C0"/>
<rect x="982" y="453" width="1" height="26" fill="#C0C0C0"/>
<rect x="986" y="453" width="1" height="18" fill="#C0C0C0"/>
<rect x="990" y="453" width="1" height="12" fill="#C0C0C0"/>
<rect x="994" y="453" width="1" height="8" fill="#C0C0C0"/>
<rect x="998" y="453" width="1" height="6" fill="#C0C0C0"/>
<rect x="1002" y="453" width="1" height="5" fill="#C0C0C0"/>
<rect x="1006" y="453" width="1" height="2" fill="#C0C0C0"/>
<rect x="1010" y="452" width="1" height="2" fill="#C0C0C0"/>
<rect x="1014" y="453" width="1" height="1" fill="#C0C0C0"/>
<rect x="1018" y="451" width="1" height="3" fill="#C0C0C0"/>
<rect x="1022" y="450" width="1" height="4" fill="#C0C0C0"/>
<rect x="1026" y="450" width="1" height="4" fill="#C0C0C0"/>
<rect x="1030" y="448" width="1" height="6" fill="#C0C0C0"/>
<rect x="1034" y="447" width="1" height="7" fill="#C0C0C0"/>
<path d="M292 404h3v1h-3zM297 404h3v1h-3zM287 405h3v1h-3zM284 406h1v1h-1zM302 406h2v1h-2zM282 407h2v1h-2zM304 407h1v1h-1zM279 409h1v1h-1zM307 409h1v1h-1zM497 409h3v1h-3zM277 410h2v1h-2zM308 410h2v1h-2zM493 410h2v1h-2zM502 410h3v1h-3zM492 411h1v1h-1zM489 412h1v1h-1zM507 412h2v1h-2zM273 413h2v1h-2zM312 413h1v1h-1zM487 413h2v1h-2zM509 413h1v1h-1zM97 414h3v1h-3zM102 414h3v1h-3zM107 414h3v1h-3zM112 414h3v1h-3zM272 414h1v1h-1zM313 414h1v1h-1zM512 414h1v1h-1zM89 415h1v1h-1zM92 415h3v1h-3zM117 415h3v1h-3zM313 415h1v1h-1zM484 415h1v1h-1zM513 415h1v1h-1zM87 416h2v1h-2zM269 416h1v1h-1zM482 416h2v1h-2zM514 416h1v1h-1zM84 417h1v1h-1zM122 417h2v1h-2zM268 417h1v1h-1zM82 418h2v1h-2zM124 418h1v1h-1zM267 418h1v1h-1zM316 418h1v1h-1zM478 418h2v1h-2zM517 418h1v1h-1zM79 419h1v1h-1zM127 419h1v1h-1zM316 419h1v1h-1zM477 419h1v1h-1zM518 419h1v1h-1zM77 420h2v1h-2zM128 420h1v1h-1zM263 420h2v1h-2zM317 420h1v1h-1zM519 420h1v1h-1zM74 421h1v1h-1zM129 421h1v1h-1zM262 421h1v1h-1zM473 421h2v1h-2zM73 422h1v1h-1zM212 422h3v1h-3zM472 422h1v1h-1zM72 423h1v1h-1zM132 423h2v1h-2zM207 423h3v1h-3zM217 423h3v1h-3zM258 423h2v1h-2zM320 423h1v1h-1zM522 423h1v1h-1zM134 424h1v1h-1zM202 424h3v1h-3zM222 424h2v1h-2zM257 424h1v1h-1zM321 424h1v1h-1zM469 424h1v1h-1zM523 424h1v1h-1zM69 425h1v1h-1zM224 425h1v1h-1zM254 425h1v1h-1zM321 425h1v1h-1zM468 425h1v1h-1zM524 425h1v1h-1zM68 426h1v1h-1zM137 426h1v1h-1zM198 426h2v1h-2zM227 426h3v1h-3zM252 426h2v1h-2zM467 426h1v1h-1zM67 427h1v1h-1zM138 427h2v1h-2zM197 427h1v1h-1zM232 427h2v1h-2zM249 427h1v1h-1zM193 428h2v1h-2zM234 428h1v1h-1zM237 428h1v1h-1zM247 428h2v1h-2zM324 428h1v1h-1zM464 428h1v1h-1zM527 428h1v1h-1zM192 429h1v1h-1zM238 429h2v1h-2zM325 429h1v1h-1zM463 429h1v1h-1zM528 429h1v1h-1zM64 430h1v1h-1zM142 430h2v1h-2zM188 430h2v1h-2zM242 430h3v1h-3zM326 430h1v1h-1zM462 430h1v1h-1zM529 430h1v1h-1zM63 431h1v1h-1zM144 431h1v1h-1zM187 431h1v1h-1zM62 432h1v1h-1zM184 432h1v1h-1zM459 432h1v1h-1zM147 433h1v1h-1zM183 433h1v1h-1zM328 433h1v1h-1zM458 433h1v1h-1zM532 433h1v1h-1zM148 434h2v1h-2zM182 434h1v1h-1zM329 434h1v1h-1zM457 434h1v1h-1zM533 434h1v1h-1zM59 435h1v1h-1zM179 435h1v1h-1zM330 435h1v1h-1zM534 435h1v1h-1zM58 436h1v1h-1zM152 436h1v1h-1zM177 436h2v1h-2zM57 437h1v1h-1zM153 437h2v1h-2zM157 437h1v1h-1zM173 437h2v1h-2zM455 437h1v1h-1zM158 438h2v1h-2zM162 438h3v1h-3zM167 438h3v1h-3zM172 438h1v1h-1zM333 438h1v1h-1zM454 438h1v1h-1zM537 438h1v1h-1zM757 438h3v1h-3zM334 439h1v1h-1zM453 439h1v1h-1zM537 439h1v1h-1zM747 439h3v1h-3zM752 439h3v1h-3zM762 439h1v1h-1zM54 440h1v1h-1zM335 440h1v1h-1zM538 440h1v1h-1zM742 440h3v1h-3zM763 440h2v1h-2zM53 441h1v1h-1zM739 441h1v1h-1zM52 442h1v1h-1zM338 442h1v1h-1zM363 442h3v1h-3zM368 442h3v1h-3zM373 442h3v1h-3zM378 442h3v1h-3zM450 442h1v1h-1zM738 442h1v1h-1zM767 442h2v1h-2zM339 443h2v1h-2zM358 443h3v1h-3zM383 443h1v1h-1zM449 443h1v1h-1zM541 443h1v1h-1zM737 443h1v1h-1zM769 443h1v1h-1zM343 444h3v1h-3zM350 444h1v1h-1zM353 444h3v1h-3zM384 444h2v1h-2zM448 444h1v1h-1zM542 444h1v1h-1zM734 444h1v1h-1zM49 445h1v1h-1zM348 445h2v1h-2zM543 445h1v1h-1zM733 445h1v1h-1zM772 445h1v1h-1zM48 446h1v1h-1zM388 446h1v1h-1zM732 446h1v1h-1zM773 446h1v1h-1zM47 447h1v1h-1zM389 447h1v1h-1zM446 447h1v1h-1zM546 447h1v1h-1zM774 447h1v1h-1zM839 447h1v1h-1zM842 447h3v1h-3zM390 448h1v1h-1zM445 448h1v1h-1zM547 448h2v1h-2zM728 448h2v1h-2zM834 448h1v1h-1zM837 448h2v1h-2zM847 448h2v1h-2zM897 448h1v1h-1zM444 449h1v1h-1zM727 449h1v1h-1zM832 449h2v1h-2zM849 449h1v1h-1zM893 449h2v1h-2zM898 449h2v1h-2zM45 450h1v1h-1zM551 450h1v1h-1zM777 450h1v1h-1zM852 450h2v1h-2zM888 450h2v1h-2zM892 450h1v1h-1zM44 451h1v1h-1zM392 451h1v1h-1zM552 451h2v1h-2zM723 451h2v1h-2zM778 451h1v1h-1zM828 451h2v1h-2zM854 451h1v1h-1zM882 451h3v1h-3zM887 451h1v1h-1zM1031 451h3v1h-3zM43 452h1v1h-1zM393 452h1v1h-1zM441 452h1v1h-1zM722 452h1v1h-1zM779 452h1v1h-1zM827 452h1v1h-1zM857 452h1v1h-1zM902 452h2v1h-2zM394 453h1v1h-1zM440 453h1v1h-1zM556 453h2v1h-2zM858 453h2v1h-2zM862 453h1v1h-1zM877 453h3v1h-3zM904 453h1v1h-1zM1027 453h2v1h-2zM439 454h1v1h-1zM558 454h1v1h-1zM719 454h1v1h-1zM823 454h2v1h-2zM863 454h2v1h-2zM867 454h3v1h-3zM872 454h3v1h-3zM1026 454h1v1h-1zM40 455h1v1h-1zM717 455h2v1h-2zM782 455h1v1h-1zM822 455h1v1h-1zM39 456h1v1h-1zM397 456h1v1h-1zM561 456h2v1h-2zM783 456h1v1h-1zM907 456h1v1h-1zM1023 456h1v1h-1zM38 457h1v1h-1zM398 457h2v1h-2zM437 457h1v1h-1zM563 457h1v1h-1zM784 457h1v1h-1zM819 457h1v1h-1zM907 457h1v1h-1zM1021 457h2v1h-2zM436 458h1v1h-1zM714 458h1v1h-1zM817 458h2v1h-2zM908 458h1v1h-1zM35 459h1v1h-1zM435 459h1v1h-1zM566 459h1v1h-1zM713 459h1v1h-1zM787 459h1v1h-1zM1017 459h2v1h-2zM34 460h1v1h-1zM402 460h1v1h-1zM567 460h2v1h-2zM712 460h1v1h-1zM788 460h1v1h-1zM813 460h2v1h-2zM1016 460h1v1h-1zM33 461h1v1h-1zM403 461h1v1h-1zM789 461h1v1h-1zM812 461h1v1h-1zM911 461h1v1h-1zM404 462h1v1h-1zM433 462h1v1h-1zM571 462h1v1h-1zM808 462h2v1h-2zM912 462h1v1h-1zM3 463h1v1h-1zM30 463h1v1h-1zM432 463h1v1h-1zM572 463h2v1h-2zM710 463h1v1h-1zM792 463h2v1h-2zM807 463h1v1h-1zM913 463h1v1h-1zM1013 463h1v1h-1zM4 464h1v1h-1zM28 464h2v1h-2zM407 464h1v1h-1zM431 464h1v1h-1zM709 464h1v1h-1zM794 464h1v1h-1zM804 464h1v1h-1zM1012 464h1v1h-1zM5 465h1v1h-1zM408 465h1v1h-1zM708 465h1v1h-1zM797 465h3v1h-3zM802 465h2v1h-2zM1011 465h1v1h-1zM25 466h1v1h-1zM409 466h1v1h-1zM576 466h1v1h-1zM916 466h1v1h-1zM8 467h2v1h-2zM23 467h2v1h-2zM429 467h1v1h-1zM576 467h1v1h-1zM917 467h1v1h-1zM10 468h1v1h-1zM13 468h1v1h-1zM19 468h2v1h-2zM412 468h2v1h-2zM427 468h2v1h-2zM577 468h1v1h-1zM706 468h1v1h-1zM918 468h1v1h-1zM1008 468h1v1h-1zM14 469h2v1h-2zM18 469h1v1h-1zM414 469h1v1h-1zM705 469h1v1h-1zM1007 469h1v1h-1zM417 470h3v1h-3zM423 470h2v1h-2zM704 470h1v1h-1zM1006 470h1v1h-1zM422 471h1v1h-1zM580 471h1v1h-1zM921 471h1v1h-1zM580 472h1v1h-1zM922 472h1v1h-1zM581 473h1v1h-1zM702 473h1v1h-1zM923 473h1v1h-1zM1004 473h1v1h-1zM701 474h1v1h-1zM1003 474h1v1h-1zM701 475h1v1h-1zM1002 475h1v1h-1zM583 476h1v1h-1zM925 476h1v1h-1zM584 477h1v1h-1zM926 477h1v1h-1zM585 478h1v1h-1zM698 478h1v1h-1zM927 478h1v1h-1zM1000 478h1v1h-1zM697 479h1v1h-1zM999 479h1v1h-1zM696 480h1v1h-1zM998 480h1v1h-1zM586 481h1v1h-1zM930 481h1v1h-1zM587 482h1v1h-1zM931 482h1v1h-1zM588 483h1v1h-1zM693 483h1v1h-1zM932 483h1v1h-1zM996 483h1v1h-1zM692 484h1v1h-1zM995 484h1v1h-1zM691 485h1v1h-1zM994 485h1v1h-1zM590 486h1v1h-1zM935 486h1v1h-1zM590 487h1v1h-1zM936 487h1v1h-1zM591 488h1v1h-1zM688 488h1v1h-1zM937 488h1v1h-1zM991 488h1v1h-1zM687 489h1v1h-1zM991 489h1v1h-1zM686 490h1v1h-1zM940 490h1v1h-1zM990 490h1v1h-1zM592 491h1v1h-1zM941 491h1v1h-1zM593 492h1v1h-1zM942 492h1v1h-1zM593 493h1v1h-1zM683 493h1v1h-1zM987 493h1v1h-1zM682 494h1v1h-1zM945 494h2v1h-2zM986 494h1v1h-1zM681 495h1v1h-1zM947 495h1v1h-1zM985 495h1v1h-1zM595 496h1v1h-1zM950 496h1v1h-1zM595 497h1v1h-1zM678 497h1v1h-1zM951 497h2v1h-2zM596 498h1v1h-1zM677 498h1v1h-1zM982 498h1v1h-1zM676 499h1v1h-1zM955 499h1v1h-1zM981 499h1v1h-1zM956 500h1v1h-1zM980 500h1v1h-1zM597 501h1v1h-1zM673 501h1v1h-1zM957 501h1v1h-1zM598 502h1v1h-1zM672 502h1v1h-1zM976 502h2v1h-2zM598 503h1v1h-1zM671 503h1v1h-1zM960 503h2v1h-2zM975 503h1v1h-1zM668 504h1v1h-1zM962 504h1v1h-1zM972 504h1v1h-1zM667 505h1v1h-1zM965 505h1v1h-1zM970 505h2v1h-2zM600 506h1v1h-1zM666 506h1v1h-1zM966 506h2v1h-2zM601 507h1v1h-1zM601 508h1v1h-1zM662 509h2v1h-2zM661 510h1v1h-1zM603 511h1v1h-1zM604 512h1v1h-1zM604 513h1v1h-1zM658 513h1v1h-1zM657 514h1v1h-1zM656 515h1v1h-1zM606 516h1v1h-1zM606 517h1v1h-1zM607 518h1v1h-1zM653 518h1v1h-1zM652 519h1v1h-1zM651 520h1v1h-1zM609 521h1v1h-1zM610 522h1v1h-1zM610 523h1v1h-1zM648 523h1v1h-1zM647 524h1v1h-1zM646 525h1v1h-1zM612 526h1v1h-1zM613 527h1v1h-1zM613 528h1v1h-1zM642 528h2v1h-2zM641 529h1v1h-1zM616 531h1v1h-1zM638 531h1v1h-1zM617 532h1v1h-1zM637 532h1v1h-1zM618 533h1v1h-1zM636 533h1v1h-1zM621 535h2v1h-2zM633 535h1v1h-1zM623 536h1v1h-1zM631 536h2v1h-2zM626 537h3v1h-3z" fill="#FF0000"/>
</g>
</svg>

<div class="tick" style="top:55px"></div><div class="pl" style="top:51px">1.01215</div><div class="tick" style="top:88px"></div><div class="pl" style="top:84px">1.00950</div><div class="tick" style="top:121px"></div><div class="pl" style="top:117px">1.00680</div><div class="tick" style="top:154px"></div><div class="pl" style="top:150px">1.00410</div><div class="tick" style="top:187px"></div><div class="pl" style="top:183px">1.00140</div><div class="tick" style="top:220px"></div><div class="pl" style="top:216px">0.99875</div><div class="tick" style="top:253px"></div><div class="pl" style="top:249px">0.99605</div><div class="tick" style="top:319px"></div><div class="pl" style="top:315px">0.99065</div><div class="tick" style="top:352px"></div><div class="pl" style="top:348px">0.98800</div><div class="tick" style="top:385px"></div><div class="pl" style="top:381px">0.98530</div><div class="tick" style="top:286px"></div><div class="cur"><span style="display:inline-block;transform:scaleX(0.91);transform-origin:0 0">0.99352</span></div><div class="tick" style="top:392px"></div><div class="pl" style="top:393px;left:1309px">0.002492</div><div class="tick" style="top:453px"></div><div class="pl" style="top:449px">0.00</div><div class="tick" style="top:549px"></div><div class="pl" style="top:540px;left:1309px">-0.003913</div>
<div class="dtick" style="left:2px"></div><div class="dl" style="left:2px">16 Oct 2018</div><div class="dtick" style="left:66px"></div><div class="dl" style="left:66px">19 Oct 00:00</div><div class="dtick" style="left:130px"></div><div class="dl" style="left:130px">23 Oct 18:00</div><div class="dtick" style="left:194px"></div><div class="dl" style="left:194px">26 Oct 10:00</div><div class="dtick" style="left:258px"></div><div class="dl" style="left:258px">31 Oct 00:00</div><div class="dtick" style="left:322px"></div><div class="dl" style="left:322px">2 Nov 18:00</div><div class="dtick" style="left:386px"></div><div class="dl" style="left:386px">7 Nov 11:00</div><div class="dtick" style="left:450px"></div><div class="dl" style="left:450px">10 Nov 00:00</div><div class="dtick" style="left:514px"></div><div class="dl" style="left:514px">14 Nov 19:00</div><div class="dtick" style="left:578px"></div><div class="dl" style="left:578px">19 Nov 11:00</div><div class="dtick" style="left:642px"></div><div class="dl" style="left:642px">22 Nov 00:00</div><div class="dtick" style="left:706px"></div><div class="dl" style="left:706px">26 Nov 19:00</div><div class="dtick" style="left:770px"></div><div class="dl" style="left:770px">29 Nov 11:00</div><div class="dtick" style="left:834px"></div><div class="dl" style="left:834px">4 Dec 00:00</div><div class="dtick" style="left:898px"></div><div class="dl" style="left:898px">6 Dec 19:00</div><div class="dtick" style="left:962px"></div><div class="dl" style="left:962px">11 Dec 11:00</div><div class="dtick" style="left:1026px"></div><div class="dl" style="left:1026px">14 Dec 00:00</div>

<div class="title" style="transform:scaleX(0.962)">USDCHF,H4</div><div class="title" style="left:77.8px;transform:scaleX(0.9255)">0.99350 0.99356 0.99331 0.99352</div>
<svg class="abs" style="left:4px;top:33.9px" width="10" height="8"><path d="M1 6.7 L8 6.7 L4.5 2.7 Z" fill="#000"/></svg>
<div id="macdt">MACD(12,26,9) 0.000299 0.000128</div>

<!-- one click trading panel -->
<div class="abs" style="left:5px;top:50px;width:52px;height:25px;background:linear-gradient(#F65656,#E03636);border:1px solid #D22A2A;border-bottom:none"></div>
<div class="abs" style="left:172px;top:50px;width:52px;height:25px;background:linear-gradient(#F65656,#E03636);border:1px solid #D22A2A;border-bottom:none"></div>
<div class="abs" style="left:5px;top:74px;width:109px;height:40px;background:linear-gradient(#DA3030,#C01414 50%,#A80000)"></div>
<div class="abs" style="left:116px;top:74px;width:108px;height:40px;background:linear-gradient(#DA3030,#C01414 50%,#A80000)"></div>
<div class="abs" style="left:9px;top:74px;width:44px;height:1px;background:#B02020"></div>
<div class="abs" style="left:176px;top:74px;width:44px;height:1px;background:#B02020"></div>
<div class="abs" style="left:59px;top:50px;width:111px;height:22px;background:#fff;border:1px solid #ABADB3"></div>
<div class="abs" style="left:60px;top:51px;width:20px;height:20px;background:linear-gradient(#F6F6F6,#EDEDED 48%,#E0E0E0 52%,#D6D6D6);border-right:1px solid #ABADB3;box-sizing:content-box"></div>
<div class="abs" style="left:148px;top:51px;width:21px;height:20px;background:linear-gradient(#F6F6F6,#EDEDED 48%,#E0E0E0 52%,#D6D6D6);border-left:1px solid #ABADB3"></div>
<svg class="abs" style="left:59px;top:50px" width="112" height="22"><path d="M7.8 9.4 L13.4 9.4 L10.6 12.4 Z" fill="#5468C8"/><path d="M96.7 12.1 L102.5 12.1 L99.6 9 Z" fill="#5468C8"/></svg>
<div class="abs" style="left:81px;top:54px;width:64px;text-align:right;font-size:12.5px;line-height:14px;color:#111">3.00</div>
<div class="rb" style="left:5px;top:55px;width:52px;text-align:center;font-size:12.5px;line-height:14px;letter-spacing:-1px;padding-right:2px">SELL</div>
<div class="rb" style="left:172px;top:55px;width:52px;text-align:center;font-size:12.5px;line-height:14px;letter-spacing:-0.6px">BUY</div>
<div class="rb" style="left:25px;top:93px;font-size:10.5px;font-weight:bold;line-height:14px;letter-spacing:0.9px">0.99</div>
<div class="rb" style="left:52.5px;top:74.5px;font-size:33.6px;line-height:36px;letter-spacing:-0.5px;transform:scaleX(0.94);transform-origin:0 0;-webkit-text-stroke:0.7px #C41A1A">35</div>
<div class="rb" style="left:92px;top:78px;font-size:10.5px;font-weight:bold;line-height:14px">2</div>
<div class="rb" style="left:135px;top:93px;font-size:10.5px;font-weight:bold;line-height:14px;letter-spacing:0.9px">0.99</div>
<div class="rb" style="left:163px;top:74.5px;font-size:33.6px;line-height:36px;letter-spacing:-0.5px;transform:scaleX(0.94);transform-origin:0 0;-webkit-text-stroke:0.7px #C41A1A">37</div>
<div class="rb" style="left:203px;top:78px;font-size:10.5px;font-weight:bold;line-height:14px">5</div>

<!-- tabs -->
<div id="tabtop"></div>
<div id="tabs"><div class="tab" style="left:15.4px">EURUSD,H4</div><div class="tab" style="left:106px">AUDUSD,H4</div><div class="tab act" style="left:197px">USDCHF,H4</div><div class="tab" style="left:286px">USDCAD,H1</div><div class="tab" style="left:376px">USDCNH,H4</div><div class="tab" style="left:469px">USDJPY,H1</div><div class="tab" style="left:554px">XAUUSD,H1</div><div class="tab" style="left:647px">GBPUSD,H1</div><div class="tab" style="left:738px">SP500,H1</div><div class="tsep" style="left:95px"></div><div class="tsep" style="left:368px"></div><div class="tsep" style="left:459px"></div><div class="tsep" style="left:543px"></div><div class="tsep" style="left:635px"></div><div class="tsep" style="left:728px"></div><div class="tsep" style="left:803px"></div>
<svg class="abs" style="left:1250px;top:0" width="98" height="19"><path d="M67.6 8 L71 4.8 L71 11.2 Z" fill="#8A8A8A"/><path d="M87 4.8 L90.4 8 L87 11.2 Z" fill="#8A8A8A"/></svg>
</div>
<div id="tabline"></div>
<div id="acttab"></div>
<div class="tab act" style="left:197px;top:578px">USDCHF,H4</div>
<div id="bot"></div><div id="botw"></div><div id="botl"></div>
</div></body></html>
